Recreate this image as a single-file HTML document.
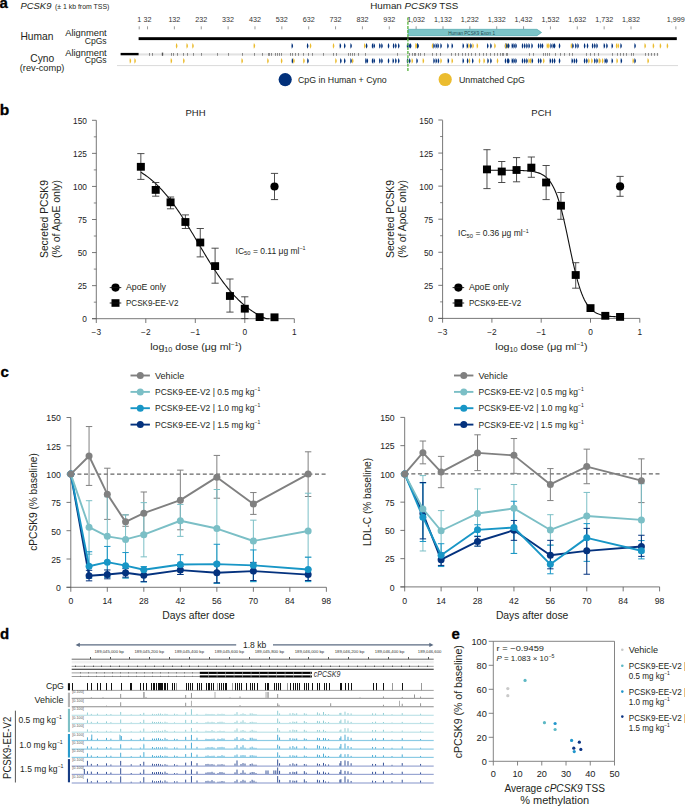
<!DOCTYPE html>
<html><head><meta charset="utf-8"><style>
html,body{margin:0;padding:0;background:#fff;width:685px;height:807px;overflow:hidden}
svg{display:block}
text{font-family:"Liberation Sans",sans-serif}
</style></head><body>
<svg width="685" height="807" viewBox="0 0 685 807" fill="#231f20">
<rect width="685" height="807" fill="#fff"/>
<text x="-0.4" y="7.8" font-size="15" fill="#000" font-weight="bold" stroke="#000" stroke-width="0.3">a</text>
<text x="20.4" y="8.8" font-size="9.6" font-style="italic" textLength="31" lengthAdjust="spacingAndGlyphs">PCSK9</text>
<text x="54.9" y="8.8" font-size="6.9" textLength="54.5" lengthAdjust="spacingAndGlyphs">(± 1 kb from TSS)</text>
<text x="370.2" y="8.8" font-size="9.8" textLength="88.2" lengthAdjust="spacingAndGlyphs">Human <tspan font-style="italic">PCSK9</tspan> TSS</text>
<text x="139.2" y="21.9" font-size="7.2" text-anchor="middle" fill="#333">1</text>
<line x1="139.2" y1="26.3" x2="139.2" y2="29.3" stroke="#555" stroke-width="0.6"/>
<text x="147.53" y="21.9" font-size="7.2" text-anchor="middle" fill="#333">32</text>
<line x1="147.53" y1="26.3" x2="147.53" y2="29.3" stroke="#555" stroke-width="0.6"/>
<text x="174.39" y="21.9" font-size="7.2" text-anchor="middle" fill="#333">132</text>
<line x1="174.39" y1="26.3" x2="174.39" y2="29.3" stroke="#555" stroke-width="0.6"/>
<text x="201.25" y="21.9" font-size="7.2" text-anchor="middle" fill="#333">232</text>
<line x1="201.25" y1="26.3" x2="201.25" y2="29.3" stroke="#555" stroke-width="0.6"/>
<text x="228.11" y="21.9" font-size="7.2" text-anchor="middle" fill="#333">332</text>
<line x1="228.11" y1="26.3" x2="228.11" y2="29.3" stroke="#555" stroke-width="0.6"/>
<text x="254.97" y="21.9" font-size="7.2" text-anchor="middle" fill="#333">432</text>
<line x1="254.97" y1="26.3" x2="254.97" y2="29.3" stroke="#555" stroke-width="0.6"/>
<text x="281.83" y="21.9" font-size="7.2" text-anchor="middle" fill="#333">532</text>
<line x1="281.83" y1="26.3" x2="281.83" y2="29.3" stroke="#555" stroke-width="0.6"/>
<text x="308.69" y="21.9" font-size="7.2" text-anchor="middle" fill="#333">632</text>
<line x1="308.69" y1="26.3" x2="308.69" y2="29.3" stroke="#555" stroke-width="0.6"/>
<text x="335.55" y="21.9" font-size="7.2" text-anchor="middle" fill="#333">732</text>
<line x1="335.55" y1="26.3" x2="335.55" y2="29.3" stroke="#555" stroke-width="0.6"/>
<text x="362.41" y="21.9" font-size="7.2" text-anchor="middle" fill="#333">832</text>
<line x1="362.41" y1="26.3" x2="362.41" y2="29.3" stroke="#555" stroke-width="0.6"/>
<text x="389.27" y="21.9" font-size="7.2" text-anchor="middle" fill="#333">932</text>
<line x1="389.27" y1="26.3" x2="389.27" y2="29.3" stroke="#555" stroke-width="0.6"/>
<text x="416.13" y="21.9" font-size="7.2" text-anchor="middle" fill="#333">1,032</text>
<line x1="416.13" y1="26.3" x2="416.13" y2="29.3" stroke="#555" stroke-width="0.6"/>
<text x="442.99" y="21.9" font-size="7.2" text-anchor="middle" fill="#333">1,132</text>
<line x1="442.99" y1="26.3" x2="442.99" y2="29.3" stroke="#555" stroke-width="0.6"/>
<text x="469.85" y="21.9" font-size="7.2" text-anchor="middle" fill="#333">1,232</text>
<line x1="469.85" y1="26.3" x2="469.85" y2="29.3" stroke="#555" stroke-width="0.6"/>
<text x="496.71" y="21.9" font-size="7.2" text-anchor="middle" fill="#333">1,332</text>
<line x1="496.71" y1="26.3" x2="496.71" y2="29.3" stroke="#555" stroke-width="0.6"/>
<text x="523.57" y="21.9" font-size="7.2" text-anchor="middle" fill="#333">1,432</text>
<line x1="523.57" y1="26.3" x2="523.57" y2="29.3" stroke="#555" stroke-width="0.6"/>
<text x="550.43" y="21.9" font-size="7.2" text-anchor="middle" fill="#333">1,532</text>
<line x1="550.43" y1="26.3" x2="550.43" y2="29.3" stroke="#555" stroke-width="0.6"/>
<text x="577.29" y="21.9" font-size="7.2" text-anchor="middle" fill="#333">1,632</text>
<line x1="577.29" y1="26.3" x2="577.29" y2="29.3" stroke="#555" stroke-width="0.6"/>
<text x="604.15" y="21.9" font-size="7.2" text-anchor="middle" fill="#333">1,732</text>
<line x1="604.15" y1="26.3" x2="604.15" y2="29.3" stroke="#555" stroke-width="0.6"/>
<text x="631.01" y="21.9" font-size="7.2" text-anchor="middle" fill="#333">1,832</text>
<line x1="631.01" y1="26.3" x2="631.01" y2="29.3" stroke="#555" stroke-width="0.6"/>
<text x="675.86" y="21.9" font-size="7.2" text-anchor="middle" fill="#333">1,999</text>
<line x1="675.86" y1="26.3" x2="675.86" y2="29.3" stroke="#555" stroke-width="0.6"/>
<path d="M408 29.3 H537 L541.6 32.5 L537 35.7 H408 Z" fill="#7cc4c8" stroke="#3f9ea6" stroke-width="0.6"/>
<text x="471.6" y="34.6" font-size="5" text-anchor="middle" fill="#1d4c55" textLength="46.8" lengthAdjust="spacingAndGlyphs">Human PCSK9 Exon 1</text>
<rect x="138.6" y="37.2" width="538.2" height="2.9" fill="#000"/>
<rect x="138.6" y="53.4" width="520" height="2.1" fill="#e2e2e2"/>
<rect x="120.6" y="52.9" width="18" height="2.4" fill="#000"/>
<rect x="149" y="53" width="1" height="2.8" fill="#8a8a8a"/>
<rect x="152" y="53" width="1" height="2.8" fill="#8a8a8a"/>
<rect x="162" y="53" width="1" height="2.8" fill="#8a8a8a"/>
<rect x="171" y="53" width="1" height="2.8" fill="#8a8a8a"/>
<rect x="173" y="53" width="1" height="2.8" fill="#8a8a8a"/>
<rect x="177" y="53" width="1" height="2.8" fill="#8a8a8a"/>
<rect x="183" y="53" width="1" height="2.8" fill="#8a8a8a"/>
<rect x="187" y="53" width="1" height="2.8" fill="#8a8a8a"/>
<rect x="193" y="53" width="1" height="2.8" fill="#8a8a8a"/>
<rect x="201" y="53" width="1" height="2.8" fill="#8a8a8a"/>
<rect x="217" y="53" width="1" height="2.8" fill="#8a8a8a"/>
<rect x="228" y="53" width="1" height="2.8" fill="#8a8a8a"/>
<rect x="242" y="53" width="1" height="2.8" fill="#8a8a8a"/>
<rect x="254" y="53" width="1" height="2.8" fill="#8a8a8a"/>
<rect x="262" y="53" width="1" height="2.8" fill="#8a8a8a"/>
<rect x="268" y="53" width="1" height="2.8" fill="#8a8a8a"/>
<rect x="269" y="53" width="1" height="2.8" fill="#8a8a8a"/>
<rect x="271" y="53" width="1" height="2.8" fill="#8a8a8a"/>
<rect x="275" y="53" width="1" height="2.8" fill="#8a8a8a"/>
<rect x="277" y="53" width="1" height="2.8" fill="#8a8a8a"/>
<rect x="279" y="53" width="1" height="2.8" fill="#8a8a8a"/>
<rect x="281" y="53" width="1" height="2.8" fill="#8a8a8a"/>
<rect x="290" y="53" width="1" height="2.8" fill="#8a8a8a"/>
<rect x="292" y="53" width="1" height="2.8" fill="#8a8a8a"/>
<rect x="295" y="53" width="1" height="2.8" fill="#8a8a8a"/>
<rect x="298" y="53" width="1" height="2.8" fill="#8a8a8a"/>
<rect x="303" y="53" width="1" height="2.8" fill="#8a8a8a"/>
<rect x="308" y="53" width="1" height="2.8" fill="#8a8a8a"/>
<rect x="312" y="53" width="1" height="2.8" fill="#8a8a8a"/>
<rect x="323" y="53" width="1" height="2.8" fill="#8a8a8a"/>
<rect x="333" y="53" width="1" height="2.8" fill="#8a8a8a"/>
<rect x="336" y="53" width="1" height="2.8" fill="#8a8a8a"/>
<rect x="348" y="53" width="1" height="2.8" fill="#8a8a8a"/>
<rect x="350" y="53" width="1" height="2.8" fill="#8a8a8a"/>
<rect x="352" y="53" width="1" height="2.8" fill="#8a8a8a"/>
<rect x="354" y="53" width="1" height="2.8" fill="#8a8a8a"/>
<rect x="358" y="53" width="1" height="2.8" fill="#8a8a8a"/>
<rect x="365" y="53" width="1" height="2.8" fill="#8a8a8a"/>
<rect x="397" y="53" width="1" height="2.8" fill="#8a8a8a"/>
<rect x="409" y="53" width="1" height="2.8" fill="#8a8a8a"/>
<rect x="412" y="53" width="1" height="2.8" fill="#8a8a8a"/>
<rect x="414" y="53" width="1" height="2.8" fill="#8a8a8a"/>
<rect x="415" y="53" width="1" height="2.8" fill="#8a8a8a"/>
<rect x="418" y="53" width="1" height="2.8" fill="#8a8a8a"/>
<rect x="420" y="53" width="1" height="2.8" fill="#8a8a8a"/>
<rect x="424" y="53" width="1" height="2.8" fill="#8a8a8a"/>
<rect x="432" y="53" width="1" height="2.8" fill="#8a8a8a"/>
<rect x="436" y="53" width="1" height="2.8" fill="#8a8a8a"/>
<rect x="440" y="53" width="1" height="2.8" fill="#8a8a8a"/>
<rect x="451" y="53" width="1" height="2.8" fill="#8a8a8a"/>
<rect x="455" y="53" width="1" height="2.8" fill="#8a8a8a"/>
<rect x="458" y="53" width="1" height="2.8" fill="#8a8a8a"/>
<rect x="462" y="53" width="1" height="2.8" fill="#8a8a8a"/>
<rect x="465" y="53" width="1" height="2.8" fill="#8a8a8a"/>
<rect x="468" y="53" width="1" height="2.8" fill="#8a8a8a"/>
<rect x="471" y="53" width="1" height="2.8" fill="#8a8a8a"/>
<rect x="475" y="53" width="1" height="2.8" fill="#8a8a8a"/>
<rect x="479" y="53" width="1" height="2.8" fill="#8a8a8a"/>
<rect x="483" y="53" width="1" height="2.8" fill="#8a8a8a"/>
<rect x="486" y="53" width="1" height="2.8" fill="#8a8a8a"/>
<rect x="490" y="53" width="1" height="2.8" fill="#8a8a8a"/>
<rect x="494" y="53" width="1" height="2.8" fill="#8a8a8a"/>
<rect x="497" y="53" width="1" height="2.8" fill="#8a8a8a"/>
<rect x="500" y="53" width="1" height="2.8" fill="#8a8a8a"/>
<rect x="502" y="53" width="1" height="2.8" fill="#8a8a8a"/>
<rect x="503" y="53" width="1" height="2.8" fill="#8a8a8a"/>
<rect x="506" y="53" width="1" height="2.8" fill="#8a8a8a"/>
<rect x="507" y="53" width="1" height="2.8" fill="#8a8a8a"/>
<rect x="529" y="53" width="1" height="2.8" fill="#8a8a8a"/>
<rect x="533" y="53" width="1" height="2.8" fill="#8a8a8a"/>
<rect x="543" y="53" width="1" height="2.8" fill="#8a8a8a"/>
<rect x="545" y="53" width="1" height="2.8" fill="#8a8a8a"/>
<rect x="547" y="53" width="1" height="2.8" fill="#8a8a8a"/>
<rect x="549" y="53" width="1" height="2.8" fill="#8a8a8a"/>
<rect x="555" y="53" width="1" height="2.8" fill="#8a8a8a"/>
<rect x="560" y="53" width="1" height="2.8" fill="#8a8a8a"/>
<rect x="564" y="53" width="1" height="2.8" fill="#8a8a8a"/>
<rect x="569" y="53" width="1" height="2.8" fill="#8a8a8a"/>
<rect x="572" y="53" width="1" height="2.8" fill="#8a8a8a"/>
<rect x="586" y="53" width="1" height="2.8" fill="#8a8a8a"/>
<rect x="590" y="53" width="1" height="2.8" fill="#8a8a8a"/>
<rect x="594" y="53" width="1" height="2.8" fill="#8a8a8a"/>
<rect x="598" y="53" width="1" height="2.8" fill="#8a8a8a"/>
<rect x="612" y="53" width="1" height="2.8" fill="#8a8a8a"/>
<rect x="617" y="53" width="1" height="2.8" fill="#8a8a8a"/>
<rect x="620" y="53" width="1" height="2.8" fill="#8a8a8a"/>
<rect x="623" y="53" width="1" height="2.8" fill="#8a8a8a"/>
<rect x="626" y="53" width="1" height="2.8" fill="#8a8a8a"/>
<rect x="631" y="53" width="1" height="2.8" fill="#8a8a8a"/>
<rect x="633" y="53" width="1" height="2.8" fill="#8a8a8a"/>
<rect x="645" y="53" width="1" height="2.8" fill="#8a8a8a"/>
<rect x="648" y="53" width="1" height="2.8" fill="#8a8a8a"/>
<rect x="651" y="53" width="1" height="2.8" fill="#8a8a8a"/>
<rect x="654" y="53" width="1" height="2.8" fill="#8a8a8a"/>
<rect x="657" y="53" width="1" height="2.8" fill="#8a8a8a"/>
<rect x="161.8" y="52.6" width="1.4" height="3" fill="#555"/>
<line x1="117" y1="65.6" x2="678" y2="65.6" stroke="#cfcfcf" stroke-width="0.8"/>
<path d="M176.2 42.9 Q178.8 45.8 176.2 48.7 Q175.5 45.8 176.2 42.9Z" fill="#ebbc2f"/>
<path d="M186.7 42.9 Q189.3 45.8 186.7 48.7 Q186 45.8 186.7 42.9Z" fill="#ebbc2f"/>
<path d="M192.5 42.9 Q195.1 45.8 192.5 48.7 Q191.8 45.8 192.5 42.9Z" fill="#ebbc2f"/>
<path d="M253.9 42.9 Q256.5 45.8 253.9 48.7 Q253.2 45.8 253.9 42.9Z" fill="#ebbc2f"/>
<path d="M291.8 42.9 Q294.4 45.8 291.8 48.7 Q291.1 45.8 291.8 42.9Z" fill="#02317b"/>
<path d="M307.2 42.9 Q309.8 45.8 307.2 48.7 Q306.5 45.8 307.2 42.9Z" fill="#02317b"/>
<path d="M310.1 42.9 Q312.7 45.8 310.1 48.7 Q309.4 45.8 310.1 42.9Z" fill="#ebbc2f"/>
<path d="M333.1 42.9 Q335.7 45.8 333.1 48.7 Q332.4 45.8 333.1 42.9Z" fill="#ebbc2f"/>
<path d="M339.9 42.9 Q342.5 45.8 339.9 48.7 Q339.2 45.8 339.9 42.9Z" fill="#02317b"/>
<path d="M344.3 42.9 Q346.9 45.8 344.3 48.7 Q343.6 45.8 344.3 42.9Z" fill="#02317b"/>
<path d="M350.6 42.9 Q353.2 45.8 350.6 48.7 Q349.9 45.8 350.6 42.9Z" fill="#02317b"/>
<path d="M364.3 42.9 Q366.9 45.8 364.3 48.7 Q363.6 45.8 364.3 42.9Z" fill="#ebbc2f"/>
<path d="M366.2 42.9 Q368.8 45.8 366.2 48.7 Q365.5 45.8 366.2 42.9Z" fill="#02317b"/>
<path d="M372.1 42.9 Q374.7 45.8 372.1 48.7 Q371.4 45.8 372.1 42.9Z" fill="#02317b"/>
<path d="M373.8 42.9 Q376.4 45.8 373.8 48.7 Q373.1 45.8 373.8 42.9Z" fill="#02317b"/>
<path d="M379.4 42.9 Q382 45.8 379.4 48.7 Q378.7 45.8 379.4 42.9Z" fill="#02317b"/>
<path d="M381.5 42.9 Q384.1 45.8 381.5 48.7 Q380.8 45.8 381.5 42.9Z" fill="#02317b"/>
<path d="M388.1 42.9 Q390.7 45.8 388.1 48.7 Q387.4 45.8 388.1 42.9Z" fill="#02317b"/>
<path d="M393.2 42.9 Q395.8 45.8 393.2 48.7 Q392.5 45.8 393.2 42.9Z" fill="#02317b"/>
<path d="M395.4 42.9 Q398 45.8 395.4 48.7 Q394.7 45.8 395.4 42.9Z" fill="#02317b"/>
<path d="M398.3 42.9 Q400.9 45.8 398.3 48.7 Q397.6 45.8 398.3 42.9Z" fill="#02317b"/>
<path d="M407.1 42.9 Q409.7 45.8 407.1 48.7 Q406.4 45.8 407.1 42.9Z" fill="#02317b"/>
<path d="M408.8 42.9 Q411.4 45.8 408.8 48.7 Q408.1 45.8 408.8 42.9Z" fill="#02317b"/>
<path d="M415.9 42.9 Q418.5 45.8 415.9 48.7 Q415.2 45.8 415.9 42.9Z" fill="#ebbc2f"/>
<path d="M417.3 42.9 Q419.9 45.8 417.3 48.7 Q416.6 45.8 417.3 42.9Z" fill="#02317b"/>
<path d="M410.2 42.9 Q412.8 45.8 410.2 48.7 Q409.5 45.8 410.2 42.9Z" fill="#02317b"/>
<path d="M415.6 42.9 Q418.2 45.8 415.6 48.7 Q414.9 45.8 415.6 42.9Z" fill="#ebbc2f"/>
<path d="M417.5 42.9 Q420.1 45.8 417.5 48.7 Q416.8 45.8 417.5 42.9Z" fill="#02317b"/>
<path d="M432.1 42.9 Q434.7 45.8 432.1 48.7 Q431.4 45.8 432.1 42.9Z" fill="#ebbc2f"/>
<path d="M433.6 42.9 Q436.2 45.8 433.6 48.7 Q432.9 45.8 433.6 42.9Z" fill="#02317b"/>
<path d="M435.8 42.9 Q438.4 45.8 435.8 48.7 Q435.1 45.8 435.8 42.9Z" fill="#02317b"/>
<path d="M437.7 42.9 Q440.3 45.8 437.7 48.7 Q437 45.8 437.7 42.9Z" fill="#02317b"/>
<path d="M440.6 42.9 Q443.2 45.8 440.6 48.7 Q439.9 45.8 440.6 42.9Z" fill="#02317b"/>
<path d="M447.5 42.9 Q450.1 45.8 447.5 48.7 Q446.8 45.8 447.5 42.9Z" fill="#02317b"/>
<path d="M451.8 42.9 Q454.4 45.8 451.8 48.7 Q451.1 45.8 451.8 42.9Z" fill="#02317b"/>
<path d="M462.8 42.9 Q465.4 45.8 462.8 48.7 Q462.1 45.8 462.8 42.9Z" fill="#02317b"/>
<path d="M466.9 42.9 Q469.5 45.8 466.9 48.7 Q466.2 45.8 466.9 42.9Z" fill="#02317b"/>
<path d="M468.6 42.9 Q471.2 45.8 468.6 48.7 Q467.9 45.8 468.6 42.9Z" fill="#ebbc2f"/>
<path d="M470.5 42.9 Q473.1 45.8 470.5 48.7 Q469.8 45.8 470.5 42.9Z" fill="#02317b"/>
<path d="M472.6 42.9 Q475.2 45.8 472.6 48.7 Q471.9 45.8 472.6 42.9Z" fill="#ebbc2f"/>
<path d="M476.9 42.9 Q479.5 45.8 476.9 48.7 Q476.2 45.8 476.9 42.9Z" fill="#ebbc2f"/>
<path d="M487.3 42.9 Q489.9 45.8 487.3 48.7 Q486.6 45.8 487.3 42.9Z" fill="#02317b"/>
<path d="M490.5 42.9 Q493.1 45.8 490.5 48.7 Q489.8 45.8 490.5 42.9Z" fill="#02317b"/>
<path d="M494.5 42.9 Q497.1 45.8 494.5 48.7 Q493.8 45.8 494.5 42.9Z" fill="#ebbc2f"/>
<path d="M505.1 42.9 Q507.7 45.8 505.1 48.7 Q504.4 45.8 505.1 42.9Z" fill="#02317b"/>
<path d="M507 42.9 Q509.6 45.8 507 48.7 Q506.3 45.8 507 42.9Z" fill="#ebbc2f"/>
<path d="M505.3 42.9 Q507.9 45.8 505.3 48.7 Q504.6 45.8 505.3 42.9Z" fill="#ebbc2f"/>
<path d="M506.5 42.9 Q509.1 45.8 506.5 48.7 Q505.8 45.8 506.5 42.9Z" fill="#02317b"/>
<path d="M508.3 42.9 Q510.9 45.8 508.3 48.7 Q507.6 45.8 508.3 42.9Z" fill="#02317b"/>
<path d="M511.9 42.9 Q514.5 45.8 511.9 48.7 Q511.2 45.8 511.9 42.9Z" fill="#02317b"/>
<path d="M513.7 42.9 Q516.3 45.8 513.7 48.7 Q513 45.8 513.7 42.9Z" fill="#02317b"/>
<path d="M515.6 42.9 Q518.2 45.8 515.6 48.7 Q514.9 45.8 515.6 42.9Z" fill="#02317b"/>
<path d="M522.1 42.9 Q524.7 45.8 522.1 48.7 Q521.4 45.8 522.1 42.9Z" fill="#02317b"/>
<path d="M524.3 42.9 Q526.9 45.8 524.3 48.7 Q523.6 45.8 524.3 42.9Z" fill="#02317b"/>
<path d="M526.5 42.9 Q529.1 45.8 526.5 48.7 Q525.8 45.8 526.5 42.9Z" fill="#02317b"/>
<path d="M528.7 42.9 Q531.3 45.8 528.7 48.7 Q528 45.8 528.7 42.9Z" fill="#02317b"/>
<path d="M531.6 42.9 Q534.2 45.8 531.6 48.7 Q530.9 45.8 531.6 42.9Z" fill="#02317b"/>
<path d="M538.2 42.9 Q540.8 45.8 538.2 48.7 Q537.5 45.8 538.2 42.9Z" fill="#02317b"/>
<path d="M540.4 42.9 Q543 45.8 540.4 48.7 Q539.7 45.8 540.4 42.9Z" fill="#02317b"/>
<path d="M542.1 42.9 Q544.7 45.8 542.1 48.7 Q541.4 45.8 542.1 42.9Z" fill="#02317b"/>
<path d="M546.9 42.9 Q549.5 45.8 546.9 48.7 Q546.2 45.8 546.9 42.9Z" fill="#ebbc2f"/>
<path d="M548.4 42.9 Q551 45.8 548.4 48.7 Q547.7 45.8 548.4 42.9Z" fill="#ebbc2f"/>
<path d="M550.6 42.9 Q553.2 45.8 550.6 48.7 Q549.9 45.8 550.6 42.9Z" fill="#02317b"/>
<path d="M552.8 42.9 Q555.4 45.8 552.8 48.7 Q552.1 45.8 552.8 42.9Z" fill="#02317b"/>
<path d="M554.2 42.9 Q556.8 45.8 554.2 48.7 Q553.5 45.8 554.2 42.9Z" fill="#02317b"/>
<path d="M559.1 42.9 Q561.7 45.8 559.1 48.7 Q558.4 45.8 559.1 42.9Z" fill="#02317b"/>
<path d="M571 42.9 Q573.6 45.8 571 48.7 Q570.3 45.8 571 42.9Z" fill="#ebbc2f"/>
<path d="M572.5 42.9 Q575.1 45.8 572.5 48.7 Q571.8 45.8 572.5 42.9Z" fill="#02317b"/>
<path d="M575.4 42.9 Q578 45.8 575.4 48.7 Q574.7 45.8 575.4 42.9Z" fill="#02317b"/>
<path d="M577.6 42.9 Q580.2 45.8 577.6 48.7 Q576.9 45.8 577.6 42.9Z" fill="#02317b"/>
<path d="M584.2 42.9 Q586.8 45.8 584.2 48.7 Q583.5 45.8 584.2 42.9Z" fill="#02317b"/>
<path d="M587.1 42.9 Q589.7 45.8 587.1 48.7 Q586.4 45.8 587.1 42.9Z" fill="#02317b"/>
<path d="M592.2 42.9 Q594.8 45.8 592.2 48.7 Q591.5 45.8 592.2 42.9Z" fill="#02317b"/>
<path d="M594.4 42.9 Q597 45.8 594.4 48.7 Q593.7 45.8 594.4 42.9Z" fill="#02317b"/>
<path d="M596.6 42.9 Q599.2 45.8 596.6 48.7 Q595.9 45.8 596.6 42.9Z" fill="#02317b"/>
<path d="M603.9 42.9 Q606.5 45.8 603.9 48.7 Q603.2 45.8 603.9 42.9Z" fill="#02317b"/>
<path d="M606.5 42.9 Q609.1 45.8 606.5 48.7 Q605.8 45.8 606.5 42.9Z" fill="#02317b"/>
<path d="M611.8 42.9 Q614.4 45.8 611.8 48.7 Q611.1 45.8 611.8 42.9Z" fill="#02317b"/>
<path d="M616.2 42.9 Q618.8 45.8 616.2 48.7 Q615.5 45.8 616.2 42.9Z" fill="#ebbc2f"/>
<path d="M617.9 42.9 Q620.5 45.8 617.9 48.7 Q617.2 45.8 617.9 42.9Z" fill="#ebbc2f"/>
<path d="M620.6 42.9 Q623.2 45.8 620.6 48.7 Q619.9 45.8 620.6 42.9Z" fill="#02317b"/>
<path d="M634.6 42.9 Q637.2 45.8 634.6 48.7 Q633.9 45.8 634.6 42.9Z" fill="#02317b"/>
<path d="M644.7 42.9 Q647.3 45.8 644.7 48.7 Q644 45.8 644.7 42.9Z" fill="#ebbc2f"/>
<path d="M653 42.9 Q655.6 45.8 653 48.7 Q652.3 45.8 653 42.9Z" fill="#ebbc2f"/>
<path d="M660 42.9 Q662.6 45.8 660 48.7 Q659.3 45.8 660 42.9Z" fill="#ebbc2f"/>
<path d="M667 42.9 Q669.6 45.8 667 48.7 Q666.3 45.8 667 42.9Z" fill="#ebbc2f"/>
<path d="M129.9 58 Q132.5 60.9 129.9 63.8 Q129.2 60.9 129.9 58Z" fill="#ebbc2f"/>
<path d="M134.6 58 Q137.2 60.9 134.6 63.8 Q133.9 60.9 134.6 58Z" fill="#ebbc2f"/>
<path d="M170.9 58 Q173.5 60.9 170.9 63.8 Q170.2 60.9 170.9 58Z" fill="#ebbc2f"/>
<path d="M183.4 58 Q186 60.9 183.4 63.8 Q182.7 60.9 183.4 58Z" fill="#ebbc2f"/>
<path d="M241.7 58 Q244.3 60.9 241.7 63.8 Q241 60.9 241.7 58Z" fill="#ebbc2f"/>
<path d="M267.5 58 Q270.1 60.9 267.5 63.8 Q266.8 60.9 267.5 58Z" fill="#ebbc2f"/>
<path d="M281.2 58 Q283.8 60.9 281.2 63.8 Q280.5 60.9 281.2 58Z" fill="#ebbc2f"/>
<path d="M292 58 Q294.6 60.9 292 63.8 Q291.3 60.9 292 58Z" fill="#02317b"/>
<path d="M293.5 58 Q296.1 60.9 293.5 63.8 Q292.8 60.9 293.5 58Z" fill="#ebbc2f"/>
<path d="M303.5 58 Q306.1 60.9 303.5 63.8 Q302.8 60.9 303.5 58Z" fill="#ebbc2f"/>
<path d="M307.5 58 Q310.1 60.9 307.5 63.8 Q306.8 60.9 307.5 58Z" fill="#02317b"/>
<path d="M335.5 58 Q338.1 60.9 335.5 63.8 Q334.8 60.9 335.5 58Z" fill="#ebbc2f"/>
<path d="M340.4 58 Q343 60.9 340.4 63.8 Q339.7 60.9 340.4 58Z" fill="#02317b"/>
<path d="M344.3 58 Q346.9 60.9 344.3 63.8 Q343.6 60.9 344.3 58Z" fill="#02317b"/>
<path d="M350.6 58 Q353.2 60.9 350.6 63.8 Q349.9 60.9 350.6 58Z" fill="#02317b"/>
<path d="M352.3 58 Q354.9 60.9 352.3 63.8 Q351.6 60.9 352.3 58Z" fill="#ebbc2f"/>
<path d="M365.5 58 Q368.1 60.9 365.5 63.8 Q364.8 60.9 365.5 58Z" fill="#02317b"/>
<path d="M366.9 58 Q369.5 60.9 366.9 63.8 Q366.2 60.9 366.9 58Z" fill="#02317b"/>
<path d="M372.1 58 Q374.7 60.9 372.1 63.8 Q371.4 60.9 372.1 58Z" fill="#02317b"/>
<path d="M373.8 58 Q376.4 60.9 373.8 63.8 Q373.1 60.9 373.8 58Z" fill="#02317b"/>
<path d="M379.4 58 Q382 60.9 379.4 63.8 Q378.7 60.9 379.4 58Z" fill="#02317b"/>
<path d="M381.5 58 Q384.1 60.9 381.5 63.8 Q380.8 60.9 381.5 58Z" fill="#02317b"/>
<path d="M388.1 58 Q390.7 60.9 388.1 63.8 Q387.4 60.9 388.1 58Z" fill="#02317b"/>
<path d="M392.8 58 Q395.4 60.9 392.8 63.8 Q392.1 60.9 392.8 58Z" fill="#02317b"/>
<path d="M395.4 58 Q398 60.9 395.4 63.8 Q394.7 60.9 395.4 58Z" fill="#02317b"/>
<path d="M398.3 58 Q400.9 60.9 398.3 63.8 Q397.6 60.9 398.3 58Z" fill="#02317b"/>
<path d="M407.1 58 Q409.7 60.9 407.1 63.8 Q406.4 60.9 407.1 58Z" fill="#02317b"/>
<path d="M409.3 58 Q411.9 60.9 409.3 63.8 Q408.6 60.9 409.3 58Z" fill="#02317b"/>
<path d="M411.8 58 Q414.4 60.9 411.8 63.8 Q411.1 60.9 411.8 58Z" fill="#ebbc2f"/>
<path d="M416.6 58 Q419.2 60.9 416.6 63.8 Q415.9 60.9 416.6 58Z" fill="#02317b"/>
<path d="M422.9 58 Q425.5 60.9 422.9 63.8 Q422.2 60.9 422.9 58Z" fill="#ebbc2f"/>
<path d="M433.6 58 Q436.2 60.9 433.6 63.8 Q432.9 60.9 433.6 58Z" fill="#02317b"/>
<path d="M435.8 58 Q438.4 60.9 435.8 63.8 Q435.1 60.9 435.8 58Z" fill="#02317b"/>
<path d="M438 58 Q440.6 60.9 438 63.8 Q437.3 60.9 438 58Z" fill="#02317b"/>
<path d="M440.6 58 Q443.2 60.9 440.6 63.8 Q439.9 60.9 440.6 58Z" fill="#ebbc2f"/>
<path d="M447.9 58 Q450.5 60.9 447.9 63.8 Q447.2 60.9 447.9 58Z" fill="#02317b"/>
<path d="M451.8 58 Q454.4 60.9 451.8 63.8 Q451.1 60.9 451.8 58Z" fill="#ebbc2f"/>
<path d="M462.8 58 Q465.4 60.9 462.8 63.8 Q462.1 60.9 462.8 58Z" fill="#02317b"/>
<path d="M467.2 58 Q469.8 60.9 467.2 63.8 Q466.5 60.9 467.2 58Z" fill="#02317b"/>
<path d="M469.1 58 Q471.7 60.9 469.1 63.8 Q468.4 60.9 469.1 58Z" fill="#ebbc2f"/>
<path d="M472.3 58 Q474.9 60.9 472.3 63.8 Q471.6 60.9 472.3 58Z" fill="#02317b"/>
<path d="M479.1 58 Q481.7 60.9 479.1 63.8 Q478.4 60.9 479.1 58Z" fill="#ebbc2f"/>
<path d="M483.7 58 Q486.3 60.9 483.7 63.8 Q483 60.9 483.7 58Z" fill="#ebbc2f"/>
<path d="M487.6 58 Q490.2 60.9 487.6 63.8 Q486.9 60.9 487.6 58Z" fill="#02317b"/>
<path d="M490.5 58 Q493.1 60.9 490.5 63.8 Q489.8 60.9 490.5 58Z" fill="#02317b"/>
<path d="M497.1 58 Q499.7 60.9 497.1 63.8 Q496.4 60.9 497.1 58Z" fill="#ebbc2f"/>
<path d="M505.1 58 Q507.7 60.9 505.1 63.8 Q504.4 60.9 505.1 58Z" fill="#02317b"/>
<path d="M507.3 58 Q509.9 60.9 507.3 63.8 Q506.6 60.9 507.3 58Z" fill="#02317b"/>
<path d="M508.3 58 Q510.9 60.9 508.3 63.8 Q507.6 60.9 508.3 58Z" fill="#02317b"/>
<path d="M511.9 58 Q514.5 60.9 511.9 63.8 Q511.2 60.9 511.9 58Z" fill="#02317b"/>
<path d="M513.7 58 Q516.3 60.9 513.7 63.8 Q513 60.9 513.7 58Z" fill="#02317b"/>
<path d="M515.6 58 Q518.2 60.9 515.6 63.8 Q514.9 60.9 515.6 58Z" fill="#02317b"/>
<path d="M522.1 58 Q524.7 60.9 522.1 63.8 Q521.4 60.9 522.1 58Z" fill="#02317b"/>
<path d="M524.3 58 Q526.9 60.9 524.3 63.8 Q523.6 60.9 524.3 58Z" fill="#02317b"/>
<path d="M526.5 58 Q529.1 60.9 526.5 63.8 Q525.8 60.9 526.5 58Z" fill="#02317b"/>
<path d="M528.7 58 Q531.3 60.9 528.7 63.8 Q528 60.9 528.7 58Z" fill="#ebbc2f"/>
<path d="M530.2 58 Q532.8 60.9 530.2 63.8 Q529.5 60.9 530.2 58Z" fill="#ebbc2f"/>
<path d="M531.9 58 Q534.5 60.9 531.9 63.8 Q531.2 60.9 531.9 58Z" fill="#02317b"/>
<path d="M538.2 58 Q540.8 60.9 538.2 63.8 Q537.5 60.9 538.2 58Z" fill="#02317b"/>
<path d="M540.4 58 Q543 60.9 540.4 63.8 Q539.7 60.9 540.4 58Z" fill="#02317b"/>
<path d="M543.3 58 Q545.9 60.9 543.3 63.8 Q542.6 60.9 543.3 58Z" fill="#ebbc2f"/>
<path d="M549.9 58 Q552.5 60.9 549.9 63.8 Q549.2 60.9 549.9 58Z" fill="#02317b"/>
<path d="M552.1 58 Q554.7 60.9 552.1 63.8 Q551.4 60.9 552.1 58Z" fill="#02317b"/>
<path d="M554.2 58 Q556.8 60.9 554.2 63.8 Q553.5 60.9 554.2 58Z" fill="#02317b"/>
<path d="M559.1 58 Q561.7 60.9 559.1 63.8 Q558.4 60.9 559.1 58Z" fill="#02317b"/>
<path d="M571.8 58 Q574.4 60.9 571.8 63.8 Q571.1 60.9 571.8 58Z" fill="#02317b"/>
<path d="M574 58 Q576.6 60.9 574 63.8 Q573.3 60.9 574 58Z" fill="#02317b"/>
<path d="M576.1 58 Q578.7 60.9 576.1 63.8 Q575.4 60.9 576.1 58Z" fill="#02317b"/>
<path d="M584.2 58 Q586.8 60.9 584.2 63.8 Q583.5 60.9 584.2 58Z" fill="#02317b"/>
<path d="M586.4 58 Q589 60.9 586.4 63.8 Q585.7 60.9 586.4 58Z" fill="#02317b"/>
<path d="M588.5 58 Q591.1 60.9 588.5 63.8 Q587.8 60.9 588.5 58Z" fill="#ebbc2f"/>
<path d="M591.5 58 Q594.1 60.9 591.5 63.8 Q590.8 60.9 591.5 58Z" fill="#ebbc2f"/>
<path d="M594.4 58 Q597 60.9 594.4 63.8 Q593.7 60.9 594.4 58Z" fill="#02317b"/>
<path d="M596.6 58 Q599.2 60.9 596.6 63.8 Q595.9 60.9 596.6 58Z" fill="#02317b"/>
<path d="M598.8 58 Q601.4 60.9 598.8 63.8 Q598.1 60.9 598.8 58Z" fill="#ebbc2f"/>
<path d="M599.5 58 Q602.1 60.9 599.5 63.8 Q598.8 60.9 599.5 58Z" fill="#ebbc2f"/>
<path d="M602.2 58 Q604.8 60.9 602.2 63.8 Q601.5 60.9 602.2 58Z" fill="#ebbc2f"/>
<path d="M604.8 58 Q607.4 60.9 604.8 63.8 Q604.1 60.9 604.8 58Z" fill="#02317b"/>
<path d="M606.5 58 Q609.1 60.9 606.5 63.8 Q605.8 60.9 606.5 58Z" fill="#02317b"/>
<path d="M611.8 58 Q614.4 60.9 611.8 63.8 Q611.1 60.9 611.8 58Z" fill="#02317b"/>
<path d="M616.7 58 Q619.3 60.9 616.7 63.8 Q616 60.9 616.7 58Z" fill="#ebbc2f"/>
<path d="M620.9 58 Q623.5 60.9 620.9 63.8 Q620.2 60.9 620.9 58Z" fill="#02317b"/>
<path d="M632.8 58 Q635.4 60.9 632.8 63.8 Q632.1 60.9 632.8 58Z" fill="#ebbc2f"/>
<path d="M634.6 58 Q637.2 60.9 634.6 63.8 Q633.9 60.9 634.6 58Z" fill="#02317b"/>
<path d="M647.7 58 Q650.3 60.9 647.7 63.8 Q647 60.9 647.7 58Z" fill="#ebbc2f"/>
<line x1="407.9" y1="17.5" x2="407.9" y2="71" stroke="#62b84a" stroke-width="1.4" stroke-dasharray="3 1.2"/>
<text x="20.4" y="40.4" font-size="10.2" textLength="33" lengthAdjust="spacingAndGlyphs">Human</text>
<text x="106.7" y="35.7" font-size="8.8" text-anchor="end" textLength="41.5" lengthAdjust="spacingAndGlyphs">Alignment</text>
<text x="106.7" y="43.5" font-size="8.8" text-anchor="end" textLength="22" lengthAdjust="spacingAndGlyphs">CpGs</text>
<text x="30.3" y="62" font-size="10.2" textLength="24" lengthAdjust="spacingAndGlyphs">Cyno</text>
<text x="106.7" y="55.8" font-size="8.8" text-anchor="end" textLength="41.5" lengthAdjust="spacingAndGlyphs">Alignment</text>
<text x="106.7" y="63.4" font-size="8.8" text-anchor="end" textLength="22" lengthAdjust="spacingAndGlyphs">CpGs</text>
<text x="19.8" y="70.7" font-size="9.2" textLength="44.6" lengthAdjust="spacingAndGlyphs">(rev-comp)</text>
<circle cx="285.2" cy="79.6" r="6.6" fill="#02317b"/>
<text x="298" y="82.5" font-size="8.8" textLength="88.7" lengthAdjust="spacingAndGlyphs">CpG in Human + Cyno</text>
<circle cx="445.2" cy="79.5" r="6.6" fill="#ebbc2f"/>
<text x="458.9" y="82.5" font-size="8.8" textLength="66" lengthAdjust="spacingAndGlyphs">Unmatched CpG</text>
<text x="-0.2" y="114.6" font-size="15.5" fill="#000" font-weight="bold" stroke="#000" stroke-width="0.3">b</text>
<line x1="96.3" y1="120.3" x2="96.3" y2="318.7" stroke="#555" stroke-width="0.8"/>
<line x1="92" y1="318.7" x2="294.3" y2="318.7" stroke="#555" stroke-width="0.8"/>
<line x1="92" y1="318.7" x2="96.3" y2="318.7" stroke="#555" stroke-width="0.8"/>
<text x="86.9" y="322.4" font-size="8.3" text-anchor="end" fill="#222">0</text>
<line x1="93.8" y1="302.17" x2="96.3" y2="302.17" stroke="#555" stroke-width="0.7"/>
<line x1="92" y1="285.63" x2="96.3" y2="285.63" stroke="#555" stroke-width="0.8"/>
<text x="86.9" y="289.33" font-size="8.3" text-anchor="end" fill="#222">25</text>
<line x1="93.8" y1="269.1" x2="96.3" y2="269.1" stroke="#555" stroke-width="0.7"/>
<line x1="92" y1="252.57" x2="96.3" y2="252.57" stroke="#555" stroke-width="0.8"/>
<text x="86.9" y="256.27" font-size="8.3" text-anchor="end" fill="#222">50</text>
<line x1="93.8" y1="236.03" x2="96.3" y2="236.03" stroke="#555" stroke-width="0.7"/>
<line x1="92" y1="219.5" x2="96.3" y2="219.5" stroke="#555" stroke-width="0.8"/>
<text x="86.9" y="223.2" font-size="8.3" text-anchor="end" fill="#222">75</text>
<line x1="93.8" y1="202.97" x2="96.3" y2="202.97" stroke="#555" stroke-width="0.7"/>
<line x1="92" y1="186.43" x2="96.3" y2="186.43" stroke="#555" stroke-width="0.8"/>
<text x="86.9" y="190.13" font-size="8.3" text-anchor="end" fill="#222">100</text>
<line x1="93.8" y1="169.9" x2="96.3" y2="169.9" stroke="#555" stroke-width="0.7"/>
<line x1="92" y1="153.37" x2="96.3" y2="153.37" stroke="#555" stroke-width="0.8"/>
<text x="86.9" y="157.07" font-size="8.3" text-anchor="end" fill="#222">125</text>
<line x1="93.8" y1="136.83" x2="96.3" y2="136.83" stroke="#555" stroke-width="0.7"/>
<line x1="92" y1="120.3" x2="96.3" y2="120.3" stroke="#555" stroke-width="0.8"/>
<text x="86.9" y="124" font-size="8.3" text-anchor="end" fill="#222">150</text>
<line x1="96.3" y1="318.7" x2="96.3" y2="323" stroke="#555" stroke-width="0.8"/>
<text x="96.3" y="334.5" font-size="8.3" text-anchor="middle" fill="#222">−3</text>
<line x1="145.8" y1="318.7" x2="145.8" y2="323" stroke="#555" stroke-width="0.8"/>
<text x="145.8" y="334.5" font-size="8.3" text-anchor="middle" fill="#222">−2</text>
<line x1="195.3" y1="318.7" x2="195.3" y2="323" stroke="#555" stroke-width="0.8"/>
<text x="195.3" y="334.5" font-size="8.3" text-anchor="middle" fill="#222">−1</text>
<line x1="244.8" y1="318.7" x2="244.8" y2="323" stroke="#555" stroke-width="0.8"/>
<text x="244.8" y="334.5" font-size="8.3" text-anchor="middle" fill="#222">0</text>
<line x1="294.3" y1="318.7" x2="294.3" y2="323" stroke="#555" stroke-width="0.8"/>
<text x="294.3" y="334.5" font-size="8.3" text-anchor="middle" fill="#222">1</text>
<text x="195.5" y="115.8" font-size="9.5" text-anchor="middle" fill="#222">PHH</text>
<text x="150.2" y="349.6" font-size="9.6" fill="#231f20" textLength="91.7" lengthAdjust="spacingAndGlyphs">log<tspan font-size="6.6" dy="2">10</tspan><tspan dy="-2"> dose (μg ml</tspan><tspan font-size="6" dy="-3.5">−1</tspan><tspan dy="3.5">)</tspan></text>
<text transform="translate(48.4,219) rotate(-90)" font-size="10" text-anchor="middle" fill="#231f20" textLength="78" lengthAdjust="spacingAndGlyphs">Secreted PCSK9</text>
<text transform="translate(59.8,219) rotate(-90)" font-size="10" text-anchor="middle" fill="#231f20" textLength="78" lengthAdjust="spacingAndGlyphs">(% of ApoE only)</text>
<path d="M140.85 172.26 L142.15 173.07 L143.45 173.92 L144.75 174.8 L146.05 175.72 L147.35 176.67 L148.65 177.65 L149.95 178.68 L151.25 179.74 L152.55 180.84 L153.85 181.98 L155.15 183.15 L156.45 184.37 L157.75 185.63 L159.05 186.93 L160.35 188.27 L161.65 189.65 L162.95 191.08 L164.25 192.54 L165.55 194.05 L166.85 195.6 L168.15 197.19 L169.45 198.82 L170.75 200.5 L172.05 202.21 L173.35 203.96 L174.65 205.76 L175.95 207.58 L177.25 209.45 L178.55 211.35 L179.85 213.29 L181.15 215.25 L182.45 217.25 L183.75 219.27 L185.05 221.33 L186.35 223.4 L187.65 225.5 L188.95 227.62 L190.25 229.76 L191.55 231.92 L192.85 234.08 L194.15 236.26 L195.45 238.44 L196.75 240.63 L198.05 242.82 L199.35 245.02 L200.65 247.2 L201.95 249.39 L203.25 251.56 L204.55 253.72 L205.85 255.87 L207.15 258.01 L208.45 260.12 L209.75 262.22 L211.05 264.29 L212.35 266.33 L213.65 268.35 L214.95 270.34 L216.25 272.3 L217.55 274.22 L218.85 276.12 L220.15 277.97 L221.45 279.79 L222.75 281.57 L224.05 283.31 L225.35 285.02 L226.65 286.68 L227.95 288.3 L229.25 289.88 L230.55 291.42 L231.85 292.92 L233.15 294.37 L234.45 295.79 L235.75 297.16 L237.05 298.49 L238.35 299.77 L239.65 301.02 L240.95 302.23 L242.25 303.39 L243.55 304.52 L244.85 305.61 L246.15 306.66 L247.45 307.67 L248.75 308.65 L250.05 309.59 L251.35 310.5 L252.65 311.37 L253.95 312.21 L255.25 313.02 L256.55 313.79 L257.85 314.53 L259.15 315.25 L260.45 315.94 L261.75 316.59 L263.05 317.22 L264.35 317.83 L265.65 318.41 L266.95 318.7 L268.25 318.7 L269.55 318.7" fill="none" stroke="#111" stroke-width="1.1"/>
<line x1="140.85" y1="153.6" x2="140.85" y2="179.4" stroke="#3a3a3a" stroke-width="0.9"/>
<line x1="137.25" y1="153.6" x2="144.45" y2="153.6" stroke="#3a3a3a" stroke-width="0.9"/>
<line x1="137.25" y1="179.4" x2="144.45" y2="179.4" stroke="#3a3a3a" stroke-width="0.9"/>
<line x1="155.7" y1="182.5" x2="155.7" y2="196.2" stroke="#3a3a3a" stroke-width="0.9"/>
<line x1="152.1" y1="182.5" x2="159.3" y2="182.5" stroke="#3a3a3a" stroke-width="0.9"/>
<line x1="152.1" y1="196.2" x2="159.3" y2="196.2" stroke="#3a3a3a" stroke-width="0.9"/>
<line x1="170.55" y1="197" x2="170.55" y2="208.8" stroke="#3a3a3a" stroke-width="0.9"/>
<line x1="166.95" y1="197" x2="174.15" y2="197" stroke="#3a3a3a" stroke-width="0.9"/>
<line x1="166.95" y1="208.8" x2="174.15" y2="208.8" stroke="#3a3a3a" stroke-width="0.9"/>
<line x1="185.4" y1="214.9" x2="185.4" y2="228.5" stroke="#3a3a3a" stroke-width="0.9"/>
<line x1="181.8" y1="214.9" x2="189" y2="214.9" stroke="#3a3a3a" stroke-width="0.9"/>
<line x1="181.8" y1="228.5" x2="189" y2="228.5" stroke="#3a3a3a" stroke-width="0.9"/>
<line x1="200.25" y1="228.5" x2="200.25" y2="256.9" stroke="#3a3a3a" stroke-width="0.9"/>
<line x1="196.65" y1="228.5" x2="203.85" y2="228.5" stroke="#3a3a3a" stroke-width="0.9"/>
<line x1="196.65" y1="256.9" x2="203.85" y2="256.9" stroke="#3a3a3a" stroke-width="0.9"/>
<line x1="215.1" y1="248.2" x2="215.1" y2="283.2" stroke="#3a3a3a" stroke-width="0.9"/>
<line x1="211.5" y1="248.2" x2="218.7" y2="248.2" stroke="#3a3a3a" stroke-width="0.9"/>
<line x1="211.5" y1="283.2" x2="218.7" y2="283.2" stroke="#3a3a3a" stroke-width="0.9"/>
<line x1="229.95" y1="279" x2="229.95" y2="312.1" stroke="#3a3a3a" stroke-width="0.9"/>
<line x1="226.35" y1="279" x2="233.55" y2="279" stroke="#3a3a3a" stroke-width="0.9"/>
<line x1="226.35" y1="312.1" x2="233.55" y2="312.1" stroke="#3a3a3a" stroke-width="0.9"/>
<line x1="244.8" y1="296.8" x2="244.8" y2="318.6" stroke="#3a3a3a" stroke-width="0.9"/>
<line x1="241.2" y1="296.8" x2="248.4" y2="296.8" stroke="#3a3a3a" stroke-width="0.9"/>
<line x1="241.2" y1="318.6" x2="248.4" y2="318.6" stroke="#3a3a3a" stroke-width="0.9"/>
<rect x="136.85" y="162.9" width="8" height="7.8" fill="#000"/>
<rect x="151.7" y="186" width="8" height="7.8" fill="#000"/>
<rect x="166.55" y="198.4" width="8" height="7.8" fill="#000"/>
<rect x="181.4" y="218.1" width="8" height="7.8" fill="#000"/>
<rect x="196.25" y="238.6" width="8" height="7.8" fill="#000"/>
<rect x="211.1" y="262.2" width="8" height="7.8" fill="#000"/>
<rect x="225.95" y="292.1" width="8" height="7.8" fill="#000"/>
<rect x="240.8" y="304.8" width="8" height="7.8" fill="#000"/>
<rect x="255.65" y="313.2" width="8" height="7.8" fill="#000"/>
<rect x="270.5" y="313.4" width="8" height="7.8" fill="#000"/>
<line x1="274.5" y1="173.4" x2="274.5" y2="199.6" stroke="#3a3a3a" stroke-width="0.9"/>
<line x1="270.9" y1="173.4" x2="278.1" y2="173.4" stroke="#3a3a3a" stroke-width="0.9"/>
<line x1="270.9" y1="199.6" x2="278.1" y2="199.6" stroke="#3a3a3a" stroke-width="0.9"/>
<circle cx="274.5" cy="186.5" r="4.1" fill="#000"/>
<text x="235.6" y="253.5" font-size="8.5" fill="#231f20">IC<tspan font-size="5.8" dy="1.8">50</tspan><tspan dy="-1.8"> = 0.11 μg ml</tspan><tspan font-size="5.4" dy="-3.2">−1</tspan></text>
<circle cx="115.5" cy="287.6" r="4.1" fill="#000"/>
<line x1="109.7" y1="287.6" x2="121.3" y2="287.6" stroke="#111" stroke-width="0.9"/>
<rect x="111.5" y="299.2" width="8" height="7.6" fill="#000"/>
<line x1="109.7" y1="303" x2="121.3" y2="303" stroke="#111" stroke-width="0.9"/>
<text x="126" y="290.3" font-size="8.6" textLength="40" lengthAdjust="spacingAndGlyphs">ApoE only</text>
<text x="126" y="306.1" font-size="8.6" textLength="52.4" lengthAdjust="spacingAndGlyphs">PCSK9-EE-V2</text>
<line x1="442.6" y1="120.3" x2="442.6" y2="318.4" stroke="#555" stroke-width="0.8"/>
<line x1="438.3" y1="318.4" x2="639.8" y2="318.4" stroke="#555" stroke-width="0.8"/>
<line x1="438.3" y1="318.4" x2="442.6" y2="318.4" stroke="#555" stroke-width="0.8"/>
<text x="433.2" y="322.1" font-size="8.3" text-anchor="end" fill="#222">0</text>
<line x1="440.1" y1="301.87" x2="442.6" y2="301.87" stroke="#555" stroke-width="0.7"/>
<line x1="438.3" y1="285.33" x2="442.6" y2="285.33" stroke="#555" stroke-width="0.8"/>
<text x="433.2" y="289.03" font-size="8.3" text-anchor="end" fill="#222">25</text>
<line x1="440.1" y1="268.8" x2="442.6" y2="268.8" stroke="#555" stroke-width="0.7"/>
<line x1="438.3" y1="252.27" x2="442.6" y2="252.27" stroke="#555" stroke-width="0.8"/>
<text x="433.2" y="255.97" font-size="8.3" text-anchor="end" fill="#222">50</text>
<line x1="440.1" y1="235.73" x2="442.6" y2="235.73" stroke="#555" stroke-width="0.7"/>
<line x1="438.3" y1="219.2" x2="442.6" y2="219.2" stroke="#555" stroke-width="0.8"/>
<text x="433.2" y="222.9" font-size="8.3" text-anchor="end" fill="#222">75</text>
<line x1="440.1" y1="202.67" x2="442.6" y2="202.67" stroke="#555" stroke-width="0.7"/>
<line x1="438.3" y1="186.13" x2="442.6" y2="186.13" stroke="#555" stroke-width="0.8"/>
<text x="433.2" y="189.83" font-size="8.3" text-anchor="end" fill="#222">100</text>
<line x1="440.1" y1="169.6" x2="442.6" y2="169.6" stroke="#555" stroke-width="0.7"/>
<line x1="438.3" y1="153.07" x2="442.6" y2="153.07" stroke="#555" stroke-width="0.8"/>
<text x="433.2" y="156.77" font-size="8.3" text-anchor="end" fill="#222">125</text>
<line x1="440.1" y1="136.53" x2="442.6" y2="136.53" stroke="#555" stroke-width="0.7"/>
<line x1="438.3" y1="120" x2="442.6" y2="120" stroke="#555" stroke-width="0.8"/>
<text x="433.2" y="123.7" font-size="8.3" text-anchor="end" fill="#222">150</text>
<line x1="442.6" y1="318.4" x2="442.6" y2="322.7" stroke="#555" stroke-width="0.8"/>
<text x="442.6" y="334.5" font-size="8.3" text-anchor="middle" fill="#222">−3</text>
<line x1="491.9" y1="318.4" x2="491.9" y2="322.7" stroke="#555" stroke-width="0.8"/>
<text x="491.9" y="334.5" font-size="8.3" text-anchor="middle" fill="#222">−2</text>
<line x1="541.2" y1="318.4" x2="541.2" y2="322.7" stroke="#555" stroke-width="0.8"/>
<text x="541.2" y="334.5" font-size="8.3" text-anchor="middle" fill="#222">−1</text>
<line x1="590.5" y1="318.4" x2="590.5" y2="322.7" stroke="#555" stroke-width="0.8"/>
<text x="590.5" y="334.5" font-size="8.3" text-anchor="middle" fill="#222">0</text>
<line x1="639.8" y1="318.4" x2="639.8" y2="322.7" stroke="#555" stroke-width="0.8"/>
<text x="639.8" y="334.5" font-size="8.3" text-anchor="middle" fill="#222">1</text>
<text x="541.4" y="115.8" font-size="9.5" text-anchor="middle" fill="#222">PCH</text>
<text x="495.3" y="349.6" font-size="9.6" fill="#231f20" textLength="92.3" lengthAdjust="spacingAndGlyphs">log<tspan font-size="6.6" dy="2">10</tspan><tspan dy="-2"> dose (μg ml</tspan><tspan font-size="6" dy="-3.5">−1</tspan><tspan dy="3.5">)</tspan></text>
<text transform="translate(394.4,219) rotate(-90)" font-size="10" text-anchor="middle" fill="#231f20" textLength="78" lengthAdjust="spacingAndGlyphs">Secreted PCSK9</text>
<text transform="translate(405.5,219) rotate(-90)" font-size="10" text-anchor="middle" fill="#231f20" textLength="78" lengthAdjust="spacingAndGlyphs">(% of ApoE only)</text>
<path d="M486.97 170.25 L488.32 170.25 L489.68 170.25 L491.03 170.25 L492.39 170.25 L493.74 170.25 L495.1 170.25 L496.45 170.25 L497.81 170.26 L499.16 170.26 L500.52 170.26 L501.87 170.27 L503.22 170.27 L504.58 170.28 L505.93 170.28 L507.29 170.29 L508.64 170.3 L510 170.31 L511.35 170.32 L512.71 170.34 L514.06 170.35 L515.41 170.38 L516.77 170.4 L518.12 170.43 L519.48 170.47 L520.83 170.51 L522.19 170.56 L523.54 170.62 L524.9 170.7 L526.25 170.78 L527.61 170.89 L528.96 171.01 L530.31 171.16 L531.67 171.34 L533.02 171.55 L534.38 171.8 L535.73 172.1 L537.09 172.45 L538.44 172.87 L539.8 173.37 L541.15 173.96 L542.5 174.66 L543.86 175.49 L545.21 176.46 L546.57 177.61 L547.92 178.95 L549.28 180.53 L550.63 182.36 L551.99 184.48 L553.34 186.92 L554.7 189.73 L556.05 192.92 L557.4 196.54 L558.76 200.58 L560.11 205.07 L561.47 210 L562.82 215.34 L564.18 221.06 L565.53 227.1 L566.89 233.38 L568.24 239.82 L569.59 246.32 L570.95 252.78 L572.3 259.1 L573.66 265.19 L575.01 270.97 L576.37 276.38 L577.72 281.38 L579.08 285.95 L580.43 290.07 L581.79 293.75 L583.14 297.02 L584.49 299.89 L585.85 302.4 L587.2 304.58 L588.56 306.46 L589.91 308.07 L591.27 309.45 L592.62 310.63 L593.98 311.63 L595.33 312.48 L596.68 313.2 L598.04 313.81 L599.39 314.33 L600.75 314.76 L602.1 315.13 L603.46 315.43 L604.81 315.69 L606.17 315.91 L607.52 316.09 L608.88 316.24 L610.23 316.37 L611.58 316.48 L612.94 316.57 L614.29 316.65 L615.65 316.71 L617 316.76 L618.36 316.81 L619.71 316.85 L621.07 316.88" fill="none" stroke="#111" stroke-width="1.1"/>
<line x1="486.97" y1="149.7" x2="486.97" y2="188.6" stroke="#3a3a3a" stroke-width="0.9"/>
<line x1="483.37" y1="149.7" x2="490.57" y2="149.7" stroke="#3a3a3a" stroke-width="0.9"/>
<line x1="483.37" y1="188.6" x2="490.57" y2="188.6" stroke="#3a3a3a" stroke-width="0.9"/>
<line x1="501.76" y1="161.5" x2="501.76" y2="182.5" stroke="#3a3a3a" stroke-width="0.9"/>
<line x1="498.16" y1="161.5" x2="505.36" y2="161.5" stroke="#3a3a3a" stroke-width="0.9"/>
<line x1="498.16" y1="182.5" x2="505.36" y2="182.5" stroke="#3a3a3a" stroke-width="0.9"/>
<line x1="516.55" y1="157.6" x2="516.55" y2="181.8" stroke="#3a3a3a" stroke-width="0.9"/>
<line x1="512.95" y1="157.6" x2="520.15" y2="157.6" stroke="#3a3a3a" stroke-width="0.9"/>
<line x1="512.95" y1="181.8" x2="520.15" y2="181.8" stroke="#3a3a3a" stroke-width="0.9"/>
<line x1="531.34" y1="157" x2="531.34" y2="177.3" stroke="#3a3a3a" stroke-width="0.9"/>
<line x1="527.74" y1="157" x2="534.94" y2="157" stroke="#3a3a3a" stroke-width="0.9"/>
<line x1="527.74" y1="177.3" x2="534.94" y2="177.3" stroke="#3a3a3a" stroke-width="0.9"/>
<line x1="546.13" y1="165.5" x2="546.13" y2="199.6" stroke="#3a3a3a" stroke-width="0.9"/>
<line x1="542.53" y1="165.5" x2="549.73" y2="165.5" stroke="#3a3a3a" stroke-width="0.9"/>
<line x1="542.53" y1="199.6" x2="549.73" y2="199.6" stroke="#3a3a3a" stroke-width="0.9"/>
<line x1="560.92" y1="192.5" x2="560.92" y2="219.3" stroke="#3a3a3a" stroke-width="0.9"/>
<line x1="557.32" y1="192.5" x2="564.52" y2="192.5" stroke="#3a3a3a" stroke-width="0.9"/>
<line x1="557.32" y1="219.3" x2="564.52" y2="219.3" stroke="#3a3a3a" stroke-width="0.9"/>
<line x1="575.71" y1="262.7" x2="575.71" y2="288.2" stroke="#3a3a3a" stroke-width="0.9"/>
<line x1="572.11" y1="262.7" x2="579.31" y2="262.7" stroke="#3a3a3a" stroke-width="0.9"/>
<line x1="572.11" y1="288.2" x2="579.31" y2="288.2" stroke="#3a3a3a" stroke-width="0.9"/>
<rect x="482.97" y="165.5" width="8" height="7.8" fill="#000"/>
<rect x="497.76" y="167.6" width="8" height="7.8" fill="#000"/>
<rect x="512.55" y="166.1" width="8" height="7.8" fill="#000"/>
<rect x="527.34" y="163.7" width="8" height="7.8" fill="#000"/>
<rect x="542.13" y="178.6" width="8" height="7.8" fill="#000"/>
<rect x="556.92" y="201.8" width="8" height="7.8" fill="#000"/>
<rect x="571.71" y="271.1" width="8" height="7.8" fill="#000"/>
<rect x="586.5" y="304.2" width="8" height="7.8" fill="#000"/>
<rect x="601.29" y="311.9" width="8" height="7.8" fill="#000"/>
<rect x="616.08" y="313" width="8" height="7.8" fill="#000"/>
<line x1="620.08" y1="176.4" x2="620.08" y2="196.3" stroke="#3a3a3a" stroke-width="0.9"/>
<line x1="616.48" y1="176.4" x2="623.68" y2="176.4" stroke="#3a3a3a" stroke-width="0.9"/>
<line x1="616.48" y1="196.3" x2="623.68" y2="196.3" stroke="#3a3a3a" stroke-width="0.9"/>
<circle cx="620.08" cy="186.4" r="4.1" fill="#000"/>
<text x="458.1" y="236.4" font-size="8.5" fill="#231f20">IC<tspan font-size="5.8" dy="1.8">50</tspan><tspan dy="-1.8"> = 0.36 μg ml</tspan><tspan font-size="5.4" dy="-3.2">−1</tspan></text>
<circle cx="458.4" cy="287.6" r="4.1" fill="#000"/>
<line x1="452.6" y1="287.6" x2="464.2" y2="287.6" stroke="#111" stroke-width="0.9"/>
<rect x="454.4" y="299.2" width="8" height="7.6" fill="#000"/>
<line x1="452.6" y1="303" x2="464.2" y2="303" stroke="#111" stroke-width="0.9"/>
<text x="468.9" y="290.3" font-size="8.6" textLength="40" lengthAdjust="spacingAndGlyphs">ApoE only</text>
<text x="468.9" y="306.1" font-size="8.6" textLength="52.4" lengthAdjust="spacingAndGlyphs">PCSK9-EE-V2</text>
<text x="0.4" y="377" font-size="15" fill="#000" font-weight="bold" stroke="#000" stroke-width="0.3">c</text>
<line x1="70.8" y1="417.5" x2="70.8" y2="587.3" stroke="#555" stroke-width="0.8"/>
<line x1="66.5" y1="587.3" x2="326.38" y2="587.3" stroke="#555" stroke-width="0.8"/>
<line x1="66.5" y1="587.3" x2="70.8" y2="587.3" stroke="#555" stroke-width="0.8"/>
<text x="60.8" y="591.1" font-size="8.7" text-anchor="end" fill="#222">0</text>
<line x1="66.5" y1="559" x2="70.8" y2="559" stroke="#555" stroke-width="0.8"/>
<text x="60.8" y="562.8" font-size="8.7" text-anchor="end" fill="#222">25</text>
<line x1="66.5" y1="530.7" x2="70.8" y2="530.7" stroke="#555" stroke-width="0.8"/>
<text x="60.8" y="534.5" font-size="8.7" text-anchor="end" fill="#222">50</text>
<line x1="66.5" y1="502.4" x2="70.8" y2="502.4" stroke="#555" stroke-width="0.8"/>
<text x="60.8" y="506.2" font-size="8.7" text-anchor="end" fill="#222">75</text>
<line x1="66.5" y1="474.1" x2="70.8" y2="474.1" stroke="#555" stroke-width="0.8"/>
<text x="60.8" y="477.9" font-size="8.7" text-anchor="end" fill="#222">100</text>
<line x1="66.5" y1="445.8" x2="70.8" y2="445.8" stroke="#555" stroke-width="0.8"/>
<text x="60.8" y="449.6" font-size="8.7" text-anchor="end" fill="#222">125</text>
<line x1="66.5" y1="417.5" x2="70.8" y2="417.5" stroke="#555" stroke-width="0.8"/>
<text x="60.8" y="421.3" font-size="8.7" text-anchor="end" fill="#222">150</text>
<line x1="70.8" y1="587.3" x2="70.8" y2="591.8" stroke="#555" stroke-width="0.8"/>
<text x="70.8" y="603.6" font-size="8.7" text-anchor="middle" fill="#222">0</text>
<line x1="107.31" y1="587.3" x2="107.31" y2="591.8" stroke="#555" stroke-width="0.8"/>
<text x="107.31" y="603.6" font-size="8.7" text-anchor="middle" fill="#222">14</text>
<line x1="143.82" y1="587.3" x2="143.82" y2="591.8" stroke="#555" stroke-width="0.8"/>
<text x="143.82" y="603.6" font-size="8.7" text-anchor="middle" fill="#222">28</text>
<line x1="180.34" y1="587.3" x2="180.34" y2="591.8" stroke="#555" stroke-width="0.8"/>
<text x="180.34" y="603.6" font-size="8.7" text-anchor="middle" fill="#222">42</text>
<line x1="216.85" y1="587.3" x2="216.85" y2="591.8" stroke="#555" stroke-width="0.8"/>
<text x="216.85" y="603.6" font-size="8.7" text-anchor="middle" fill="#222">56</text>
<line x1="253.36" y1="587.3" x2="253.36" y2="591.8" stroke="#555" stroke-width="0.8"/>
<text x="253.36" y="603.6" font-size="8.7" text-anchor="middle" fill="#222">70</text>
<line x1="289.87" y1="587.3" x2="289.87" y2="591.8" stroke="#555" stroke-width="0.8"/>
<text x="289.87" y="603.6" font-size="8.7" text-anchor="middle" fill="#222">84</text>
<line x1="326.38" y1="587.3" x2="326.38" y2="591.8" stroke="#555" stroke-width="0.8"/>
<text x="326.38" y="603.6" font-size="8.7" text-anchor="middle" fill="#222">98</text>
<text x="198.59" y="619.1" font-size="10" text-anchor="middle" textLength="72.5" lengthAdjust="spacingAndGlyphs">Days after dose</text>
<text transform="translate(37.2,502) rotate(-90)" font-size="10" text-anchor="middle" fill="#231f20" textLength="97.6" lengthAdjust="spacingAndGlyphs">cPCSK9 (% baseline)</text>
<line x1="70.8" y1="474.1" x2="326.38" y2="474.1" stroke="#666" stroke-width="1.1" stroke-dasharray="4 2.6"/>
<line x1="89.06" y1="485.42" x2="89.06" y2="426.56" stroke="#808080" stroke-width="1.0"/>
<line x1="85.86" y1="485.42" x2="92.26" y2="485.42" stroke="#808080" stroke-width="1.0"/>
<line x1="85.86" y1="426.56" x2="92.26" y2="426.56" stroke="#808080" stroke-width="1.0"/>
<line x1="107.31" y1="519.38" x2="107.31" y2="468.21" stroke="#808080" stroke-width="1.0"/>
<line x1="104.11" y1="519.38" x2="110.51" y2="519.38" stroke="#808080" stroke-width="1.0"/>
<line x1="104.11" y1="468.21" x2="110.51" y2="468.21" stroke="#808080" stroke-width="1.0"/>
<line x1="125.57" y1="526.29" x2="125.57" y2="514.85" stroke="#808080" stroke-width="1.0"/>
<line x1="122.37" y1="526.29" x2="128.77" y2="526.29" stroke="#808080" stroke-width="1.0"/>
<line x1="122.37" y1="514.85" x2="128.77" y2="514.85" stroke="#808080" stroke-width="1.0"/>
<line x1="143.82" y1="533.3" x2="143.82" y2="491.99" stroke="#808080" stroke-width="1.0"/>
<line x1="140.62" y1="533.3" x2="147.02" y2="533.3" stroke="#808080" stroke-width="1.0"/>
<line x1="140.62" y1="491.99" x2="147.02" y2="491.99" stroke="#808080" stroke-width="1.0"/>
<line x1="180.34" y1="529.79" x2="180.34" y2="470.14" stroke="#808080" stroke-width="1.0"/>
<line x1="177.14" y1="529.79" x2="183.54" y2="529.79" stroke="#808080" stroke-width="1.0"/>
<line x1="177.14" y1="470.14" x2="183.54" y2="470.14" stroke="#808080" stroke-width="1.0"/>
<line x1="216.85" y1="498.21" x2="216.85" y2="455.42" stroke="#808080" stroke-width="1.0"/>
<line x1="213.65" y1="498.21" x2="220.05" y2="498.21" stroke="#808080" stroke-width="1.0"/>
<line x1="213.65" y1="455.42" x2="220.05" y2="455.42" stroke="#808080" stroke-width="1.0"/>
<line x1="253.36" y1="514.4" x2="253.36" y2="492.55" stroke="#808080" stroke-width="1.0"/>
<line x1="250.16" y1="514.4" x2="256.56" y2="514.4" stroke="#808080" stroke-width="1.0"/>
<line x1="250.16" y1="492.55" x2="256.56" y2="492.55" stroke="#808080" stroke-width="1.0"/>
<line x1="308.13" y1="496.51" x2="308.13" y2="451.8" stroke="#808080" stroke-width="1.0"/>
<line x1="304.93" y1="496.51" x2="311.33" y2="496.51" stroke="#808080" stroke-width="1.0"/>
<line x1="304.93" y1="451.8" x2="311.33" y2="451.8" stroke="#808080" stroke-width="1.0"/>
<line x1="89.06" y1="554.25" x2="89.06" y2="500.7" stroke="#7bbfc6" stroke-width="1.0"/>
<line x1="85.86" y1="554.25" x2="92.26" y2="554.25" stroke="#7bbfc6" stroke-width="1.0"/>
<line x1="85.86" y1="500.7" x2="92.26" y2="500.7" stroke="#7bbfc6" stroke-width="1.0"/>
<line x1="107.31" y1="577.45" x2="107.31" y2="496.74" stroke="#7bbfc6" stroke-width="1.0"/>
<line x1="104.11" y1="577.45" x2="110.51" y2="577.45" stroke="#7bbfc6" stroke-width="1.0"/>
<line x1="104.11" y1="496.74" x2="110.51" y2="496.74" stroke="#7bbfc6" stroke-width="1.0"/>
<line x1="125.57" y1="578.02" x2="125.57" y2="514.85" stroke="#7bbfc6" stroke-width="1.0"/>
<line x1="122.37" y1="578.02" x2="128.77" y2="578.02" stroke="#7bbfc6" stroke-width="1.0"/>
<line x1="122.37" y1="514.85" x2="128.77" y2="514.85" stroke="#7bbfc6" stroke-width="1.0"/>
<line x1="143.82" y1="556.85" x2="143.82" y2="502.63" stroke="#7bbfc6" stroke-width="1.0"/>
<line x1="140.62" y1="556.85" x2="147.02" y2="556.85" stroke="#7bbfc6" stroke-width="1.0"/>
<line x1="140.62" y1="502.63" x2="147.02" y2="502.63" stroke="#7bbfc6" stroke-width="1.0"/>
<line x1="180.34" y1="536.36" x2="180.34" y2="504.44" stroke="#7bbfc6" stroke-width="1.0"/>
<line x1="177.14" y1="536.36" x2="183.54" y2="536.36" stroke="#7bbfc6" stroke-width="1.0"/>
<line x1="177.14" y1="504.44" x2="183.54" y2="504.44" stroke="#7bbfc6" stroke-width="1.0"/>
<line x1="216.85" y1="583.34" x2="216.85" y2="489.5" stroke="#7bbfc6" stroke-width="1.0"/>
<line x1="213.65" y1="583.34" x2="220.05" y2="583.34" stroke="#7bbfc6" stroke-width="1.0"/>
<line x1="213.65" y1="489.5" x2="220.05" y2="489.5" stroke="#7bbfc6" stroke-width="1.0"/>
<line x1="253.36" y1="581.64" x2="253.36" y2="520.17" stroke="#7bbfc6" stroke-width="1.0"/>
<line x1="250.16" y1="581.64" x2="256.56" y2="581.64" stroke="#7bbfc6" stroke-width="1.0"/>
<line x1="250.16" y1="520.17" x2="256.56" y2="520.17" stroke="#7bbfc6" stroke-width="1.0"/>
<line x1="308.13" y1="557.19" x2="308.13" y2="493.23" stroke="#7bbfc6" stroke-width="1.0"/>
<line x1="304.93" y1="557.19" x2="311.33" y2="557.19" stroke="#7bbfc6" stroke-width="1.0"/>
<line x1="304.93" y1="493.23" x2="311.33" y2="493.23" stroke="#7bbfc6" stroke-width="1.0"/>
<line x1="89.06" y1="578.24" x2="89.06" y2="551.76" stroke="#1896c6" stroke-width="1.0"/>
<line x1="85.86" y1="578.24" x2="92.26" y2="578.24" stroke="#1896c6" stroke-width="1.0"/>
<line x1="85.86" y1="551.76" x2="92.26" y2="551.76" stroke="#1896c6" stroke-width="1.0"/>
<line x1="107.31" y1="577.11" x2="107.31" y2="546.43" stroke="#1896c6" stroke-width="1.0"/>
<line x1="104.11" y1="577.11" x2="110.51" y2="577.11" stroke="#1896c6" stroke-width="1.0"/>
<line x1="104.11" y1="546.43" x2="110.51" y2="546.43" stroke="#1896c6" stroke-width="1.0"/>
<line x1="125.57" y1="578.02" x2="125.57" y2="552.55" stroke="#1896c6" stroke-width="1.0"/>
<line x1="122.37" y1="578.02" x2="128.77" y2="578.02" stroke="#1896c6" stroke-width="1.0"/>
<line x1="122.37" y1="552.55" x2="128.77" y2="552.55" stroke="#1896c6" stroke-width="1.0"/>
<line x1="143.82" y1="581.98" x2="143.82" y2="566.58" stroke="#1896c6" stroke-width="1.0"/>
<line x1="140.62" y1="581.98" x2="147.02" y2="581.98" stroke="#1896c6" stroke-width="1.0"/>
<line x1="140.62" y1="566.58" x2="147.02" y2="566.58" stroke="#1896c6" stroke-width="1.0"/>
<line x1="180.34" y1="574.51" x2="180.34" y2="554.7" stroke="#1896c6" stroke-width="1.0"/>
<line x1="177.14" y1="574.51" x2="183.54" y2="574.51" stroke="#1896c6" stroke-width="1.0"/>
<line x1="177.14" y1="554.7" x2="183.54" y2="554.7" stroke="#1896c6" stroke-width="1.0"/>
<line x1="216.85" y1="583.34" x2="216.85" y2="544.28" stroke="#1896c6" stroke-width="1.0"/>
<line x1="213.65" y1="583.34" x2="220.05" y2="583.34" stroke="#1896c6" stroke-width="1.0"/>
<line x1="213.65" y1="544.28" x2="220.05" y2="544.28" stroke="#1896c6" stroke-width="1.0"/>
<line x1="253.36" y1="581.64" x2="253.36" y2="549.94" stroke="#1896c6" stroke-width="1.0"/>
<line x1="250.16" y1="581.64" x2="256.56" y2="581.64" stroke="#1896c6" stroke-width="1.0"/>
<line x1="250.16" y1="549.94" x2="256.56" y2="549.94" stroke="#1896c6" stroke-width="1.0"/>
<line x1="308.13" y1="581.64" x2="308.13" y2="557.19" stroke="#1896c6" stroke-width="1.0"/>
<line x1="304.93" y1="581.64" x2="311.33" y2="581.64" stroke="#1896c6" stroke-width="1.0"/>
<line x1="304.93" y1="557.19" x2="311.33" y2="557.19" stroke="#1896c6" stroke-width="1.0"/>
<line x1="89.06" y1="580.85" x2="89.06" y2="570.32" stroke="#04327e" stroke-width="1.0"/>
<line x1="85.86" y1="580.85" x2="92.26" y2="580.85" stroke="#04327e" stroke-width="1.0"/>
<line x1="85.86" y1="570.32" x2="92.26" y2="570.32" stroke="#04327e" stroke-width="1.0"/>
<line x1="107.31" y1="578.81" x2="107.31" y2="569.98" stroke="#04327e" stroke-width="1.0"/>
<line x1="104.11" y1="578.81" x2="110.51" y2="578.81" stroke="#04327e" stroke-width="1.0"/>
<line x1="104.11" y1="569.98" x2="110.51" y2="569.98" stroke="#04327e" stroke-width="1.0"/>
<line x1="125.57" y1="577.11" x2="125.57" y2="568.62" stroke="#04327e" stroke-width="1.0"/>
<line x1="122.37" y1="577.11" x2="128.77" y2="577.11" stroke="#04327e" stroke-width="1.0"/>
<line x1="122.37" y1="568.62" x2="128.77" y2="568.62" stroke="#04327e" stroke-width="1.0"/>
<line x1="143.82" y1="581.64" x2="143.82" y2="570.32" stroke="#04327e" stroke-width="1.0"/>
<line x1="140.62" y1="581.64" x2="147.02" y2="581.64" stroke="#04327e" stroke-width="1.0"/>
<line x1="140.62" y1="570.32" x2="147.02" y2="570.32" stroke="#04327e" stroke-width="1.0"/>
<line x1="180.34" y1="574.51" x2="180.34" y2="566.58" stroke="#04327e" stroke-width="1.0"/>
<line x1="177.14" y1="574.51" x2="183.54" y2="574.51" stroke="#04327e" stroke-width="1.0"/>
<line x1="177.14" y1="566.58" x2="183.54" y2="566.58" stroke="#04327e" stroke-width="1.0"/>
<line x1="216.85" y1="582.77" x2="216.85" y2="562.4" stroke="#04327e" stroke-width="1.0"/>
<line x1="213.65" y1="582.77" x2="220.05" y2="582.77" stroke="#04327e" stroke-width="1.0"/>
<line x1="213.65" y1="562.4" x2="220.05" y2="562.4" stroke="#04327e" stroke-width="1.0"/>
<line x1="253.36" y1="580.51" x2="253.36" y2="562.4" stroke="#04327e" stroke-width="1.0"/>
<line x1="250.16" y1="580.51" x2="256.56" y2="580.51" stroke="#04327e" stroke-width="1.0"/>
<line x1="250.16" y1="562.4" x2="256.56" y2="562.4" stroke="#04327e" stroke-width="1.0"/>
<line x1="308.13" y1="580.51" x2="308.13" y2="569.19" stroke="#04327e" stroke-width="1.0"/>
<line x1="304.93" y1="580.51" x2="311.33" y2="580.51" stroke="#04327e" stroke-width="1.0"/>
<line x1="304.93" y1="569.19" x2="311.33" y2="569.19" stroke="#04327e" stroke-width="1.0"/>
<path d="M70.8 474.1 L89.06 575.75 L107.31 574.51 L125.57 572.7 L143.82 575.3 L180.34 570.09 L216.85 572.81 L253.36 571.11 L308.13 574.62" fill="none" stroke="#04327e" stroke-width="1.9" stroke-linejoin="round"/>
<circle cx="70.8" cy="474.1" r="3.5" fill="#04327e"/>
<circle cx="89.06" cy="575.75" r="3.5" fill="#04327e"/>
<circle cx="107.31" cy="574.51" r="3.5" fill="#04327e"/>
<circle cx="125.57" cy="572.7" r="3.5" fill="#04327e"/>
<circle cx="143.82" cy="575.3" r="3.5" fill="#04327e"/>
<circle cx="180.34" cy="570.09" r="3.5" fill="#04327e"/>
<circle cx="216.85" cy="572.81" r="3.5" fill="#04327e"/>
<circle cx="253.36" cy="571.11" r="3.5" fill="#04327e"/>
<circle cx="308.13" cy="574.62" r="3.5" fill="#04327e"/>
<path d="M70.8 474.1 L89.06 566.24 L107.31 562.17 L125.57 565.68 L143.82 569.75 L180.34 564.55 L216.85 564.09 L253.36 565.34 L308.13 569.53" fill="none" stroke="#1896c6" stroke-width="1.9" stroke-linejoin="round"/>
<circle cx="70.8" cy="474.1" r="3.5" fill="#1896c6"/>
<circle cx="89.06" cy="566.24" r="3.5" fill="#1896c6"/>
<circle cx="107.31" cy="562.17" r="3.5" fill="#1896c6"/>
<circle cx="125.57" cy="565.68" r="3.5" fill="#1896c6"/>
<circle cx="143.82" cy="569.75" r="3.5" fill="#1896c6"/>
<circle cx="180.34" cy="564.55" r="3.5" fill="#1896c6"/>
<circle cx="216.85" cy="564.09" r="3.5" fill="#1896c6"/>
<circle cx="253.36" cy="565.34" r="3.5" fill="#1896c6"/>
<circle cx="308.13" cy="569.53" r="3.5" fill="#1896c6"/>
<path d="M70.8 474.1 L89.06 527.19 L107.31 536.36 L125.57 539.42 L143.82 534.66 L180.34 520.74 L216.85 528.55 L253.36 541 L308.13 531.04" fill="none" stroke="#7bbfc6" stroke-width="1.9" stroke-linejoin="round"/>
<circle cx="70.8" cy="474.1" r="3.5" fill="#7bbfc6"/>
<circle cx="89.06" cy="527.19" r="3.5" fill="#7bbfc6"/>
<circle cx="107.31" cy="536.36" r="3.5" fill="#7bbfc6"/>
<circle cx="125.57" cy="539.42" r="3.5" fill="#7bbfc6"/>
<circle cx="143.82" cy="534.66" r="3.5" fill="#7bbfc6"/>
<circle cx="180.34" cy="520.74" r="3.5" fill="#7bbfc6"/>
<circle cx="216.85" cy="528.55" r="3.5" fill="#7bbfc6"/>
<circle cx="253.36" cy="541" r="3.5" fill="#7bbfc6"/>
<circle cx="308.13" cy="531.04" r="3.5" fill="#7bbfc6"/>
<path d="M70.8 474.1 L89.06 455.99 L107.31 494.14 L125.57 521.87 L143.82 513.15 L180.34 500.14 L216.85 477.16 L253.36 503.98 L308.13 474.1" fill="none" stroke="#808080" stroke-width="1.9" stroke-linejoin="round"/>
<circle cx="70.8" cy="474.1" r="3.5" fill="#808080"/>
<circle cx="89.06" cy="455.99" r="3.5" fill="#808080"/>
<circle cx="107.31" cy="494.14" r="3.5" fill="#808080"/>
<circle cx="125.57" cy="521.87" r="3.5" fill="#808080"/>
<circle cx="143.82" cy="513.15" r="3.5" fill="#808080"/>
<circle cx="180.34" cy="500.14" r="3.5" fill="#808080"/>
<circle cx="216.85" cy="477.16" r="3.5" fill="#808080"/>
<circle cx="253.36" cy="503.98" r="3.5" fill="#808080"/>
<circle cx="308.13" cy="474.1" r="3.5" fill="#808080"/>
<line x1="130.5" y1="375.5" x2="149.9" y2="375.5" stroke="#808080" stroke-width="1.9"/>
<circle cx="140.3" cy="375.5" r="3.5" fill="#808080"/>
<text x="155" y="378.6" font-size="8.8" textLength="29.3" lengthAdjust="spacingAndGlyphs">Vehicle</text>
<line x1="130.5" y1="391.9" x2="149.9" y2="391.9" stroke="#7bbfc6" stroke-width="1.9"/>
<circle cx="140.3" cy="391.9" r="3.5" fill="#7bbfc6"/>
<text x="155" y="395" font-size="8.8" fill="#231f20"><tspan textLength="99.6" lengthAdjust="spacingAndGlyphs">PCSK9-EE-V2 | 0.5 mg kg</tspan><tspan font-size="5" dy="-3.9">−1</tspan></text>
<line x1="130.5" y1="408.2" x2="149.9" y2="408.2" stroke="#1896c6" stroke-width="1.9"/>
<circle cx="140.3" cy="408.2" r="3.5" fill="#1896c6"/>
<text x="155" y="411.3" font-size="8.8" fill="#231f20"><tspan textLength="99.6" lengthAdjust="spacingAndGlyphs">PCSK9-EE-V2 | 1.0 mg kg</tspan><tspan font-size="5" dy="-3.9">−1</tspan></text>
<line x1="130.5" y1="424.6" x2="149.9" y2="424.6" stroke="#04327e" stroke-width="1.9"/>
<circle cx="140.3" cy="424.6" r="3.5" fill="#04327e"/>
<text x="155" y="427.7" font-size="8.8" fill="#231f20"><tspan textLength="99.6" lengthAdjust="spacingAndGlyphs">PCSK9-EE-V2 | 1.5 mg kg</tspan><tspan font-size="5" dy="-3.9">−1</tspan></text>
<line x1="404.7" y1="417.4" x2="404.7" y2="586.9" stroke="#555" stroke-width="0.8"/>
<line x1="400.4" y1="586.9" x2="659.6" y2="586.9" stroke="#555" stroke-width="0.8"/>
<line x1="400.4" y1="586.9" x2="404.7" y2="586.9" stroke="#555" stroke-width="0.8"/>
<text x="394.7" y="590.7" font-size="8.7" text-anchor="end" fill="#222">0</text>
<line x1="400.4" y1="558.65" x2="404.7" y2="558.65" stroke="#555" stroke-width="0.8"/>
<text x="394.7" y="562.45" font-size="8.7" text-anchor="end" fill="#222">25</text>
<line x1="400.4" y1="530.4" x2="404.7" y2="530.4" stroke="#555" stroke-width="0.8"/>
<text x="394.7" y="534.2" font-size="8.7" text-anchor="end" fill="#222">50</text>
<line x1="400.4" y1="502.15" x2="404.7" y2="502.15" stroke="#555" stroke-width="0.8"/>
<text x="394.7" y="505.95" font-size="8.7" text-anchor="end" fill="#222">75</text>
<line x1="400.4" y1="473.9" x2="404.7" y2="473.9" stroke="#555" stroke-width="0.8"/>
<text x="394.7" y="477.7" font-size="8.7" text-anchor="end" fill="#222">100</text>
<line x1="400.4" y1="445.65" x2="404.7" y2="445.65" stroke="#555" stroke-width="0.8"/>
<text x="394.7" y="449.45" font-size="8.7" text-anchor="end" fill="#222">125</text>
<line x1="400.4" y1="417.4" x2="404.7" y2="417.4" stroke="#555" stroke-width="0.8"/>
<text x="394.7" y="421.2" font-size="8.7" text-anchor="end" fill="#222">150</text>
<line x1="404.7" y1="586.9" x2="404.7" y2="591.4" stroke="#555" stroke-width="0.8"/>
<text x="404.7" y="603.6" font-size="8.7" text-anchor="middle" fill="#222">0</text>
<line x1="441.11" y1="586.9" x2="441.11" y2="591.4" stroke="#555" stroke-width="0.8"/>
<text x="441.11" y="603.6" font-size="8.7" text-anchor="middle" fill="#222">14</text>
<line x1="477.53" y1="586.9" x2="477.53" y2="591.4" stroke="#555" stroke-width="0.8"/>
<text x="477.53" y="603.6" font-size="8.7" text-anchor="middle" fill="#222">28</text>
<line x1="513.94" y1="586.9" x2="513.94" y2="591.4" stroke="#555" stroke-width="0.8"/>
<text x="513.94" y="603.6" font-size="8.7" text-anchor="middle" fill="#222">42</text>
<line x1="550.36" y1="586.9" x2="550.36" y2="591.4" stroke="#555" stroke-width="0.8"/>
<text x="550.36" y="603.6" font-size="8.7" text-anchor="middle" fill="#222">56</text>
<line x1="586.77" y1="586.9" x2="586.77" y2="591.4" stroke="#555" stroke-width="0.8"/>
<text x="586.77" y="603.6" font-size="8.7" text-anchor="middle" fill="#222">70</text>
<line x1="623.18" y1="586.9" x2="623.18" y2="591.4" stroke="#555" stroke-width="0.8"/>
<text x="623.18" y="603.6" font-size="8.7" text-anchor="middle" fill="#222">84</text>
<line x1="659.6" y1="586.9" x2="659.6" y2="591.4" stroke="#555" stroke-width="0.8"/>
<text x="659.6" y="603.6" font-size="8.7" text-anchor="middle" fill="#222">98</text>
<text x="532.15" y="619.1" font-size="10" text-anchor="middle" textLength="72.5" lengthAdjust="spacingAndGlyphs">Days after dose</text>
<text transform="translate(371,502) rotate(-90)" font-size="10" text-anchor="middle" fill="#231f20" textLength="88" lengthAdjust="spacingAndGlyphs">LDL-C (% baseline)</text>
<line x1="404.7" y1="473.9" x2="659.6" y2="473.9" stroke="#666" stroke-width="1.1" stroke-dasharray="4 2.6"/>
<line x1="422.91" y1="463.84" x2="422.91" y2="441.02" stroke="#808080" stroke-width="1.0"/>
<line x1="419.71" y1="463.84" x2="426.11" y2="463.84" stroke="#808080" stroke-width="1.0"/>
<line x1="419.71" y1="441.02" x2="426.11" y2="441.02" stroke="#808080" stroke-width="1.0"/>
<line x1="441.11" y1="487.69" x2="441.11" y2="456.38" stroke="#808080" stroke-width="1.0"/>
<line x1="437.91" y1="487.69" x2="444.31" y2="487.69" stroke="#808080" stroke-width="1.0"/>
<line x1="437.91" y1="456.38" x2="444.31" y2="456.38" stroke="#808080" stroke-width="1.0"/>
<line x1="477.53" y1="470.62" x2="477.53" y2="434.8" stroke="#808080" stroke-width="1.0"/>
<line x1="474.33" y1="470.62" x2="480.73" y2="470.62" stroke="#808080" stroke-width="1.0"/>
<line x1="474.33" y1="434.8" x2="480.73" y2="434.8" stroke="#808080" stroke-width="1.0"/>
<line x1="513.94" y1="473.33" x2="513.94" y2="438.53" stroke="#808080" stroke-width="1.0"/>
<line x1="510.74" y1="473.33" x2="517.14" y2="473.33" stroke="#808080" stroke-width="1.0"/>
<line x1="510.74" y1="438.53" x2="517.14" y2="438.53" stroke="#808080" stroke-width="1.0"/>
<line x1="550.36" y1="500.57" x2="550.36" y2="468.59" stroke="#808080" stroke-width="1.0"/>
<line x1="547.16" y1="500.57" x2="553.56" y2="500.57" stroke="#808080" stroke-width="1.0"/>
<line x1="547.16" y1="468.59" x2="553.56" y2="468.59" stroke="#808080" stroke-width="1.0"/>
<line x1="586.77" y1="483.73" x2="586.77" y2="449.15" stroke="#808080" stroke-width="1.0"/>
<line x1="583.57" y1="483.73" x2="589.97" y2="483.73" stroke="#808080" stroke-width="1.0"/>
<line x1="583.57" y1="449.15" x2="589.97" y2="449.15" stroke="#808080" stroke-width="1.0"/>
<line x1="641.39" y1="502.6" x2="641.39" y2="458.87" stroke="#808080" stroke-width="1.0"/>
<line x1="638.19" y1="502.6" x2="644.59" y2="502.6" stroke="#808080" stroke-width="1.0"/>
<line x1="638.19" y1="458.87" x2="644.59" y2="458.87" stroke="#808080" stroke-width="1.0"/>
<line x1="422.91" y1="550.97" x2="422.91" y2="475.59" stroke="#7bbfc6" stroke-width="1.0"/>
<line x1="419.71" y1="550.97" x2="426.11" y2="550.97" stroke="#7bbfc6" stroke-width="1.0"/>
<line x1="419.71" y1="475.59" x2="426.11" y2="475.59" stroke="#7bbfc6" stroke-width="1.0"/>
<line x1="441.11" y1="553.9" x2="441.11" y2="510.62" stroke="#7bbfc6" stroke-width="1.0"/>
<line x1="437.91" y1="553.9" x2="444.31" y2="553.9" stroke="#7bbfc6" stroke-width="1.0"/>
<line x1="437.91" y1="510.62" x2="444.31" y2="510.62" stroke="#7bbfc6" stroke-width="1.0"/>
<line x1="477.53" y1="546.22" x2="477.53" y2="488.93" stroke="#7bbfc6" stroke-width="1.0"/>
<line x1="474.33" y1="546.22" x2="480.73" y2="546.22" stroke="#7bbfc6" stroke-width="1.0"/>
<line x1="474.33" y1="488.93" x2="480.73" y2="488.93" stroke="#7bbfc6" stroke-width="1.0"/>
<line x1="513.94" y1="553.45" x2="513.94" y2="484.52" stroke="#7bbfc6" stroke-width="1.0"/>
<line x1="510.74" y1="553.45" x2="517.14" y2="553.45" stroke="#7bbfc6" stroke-width="1.0"/>
<line x1="510.74" y1="484.52" x2="517.14" y2="484.52" stroke="#7bbfc6" stroke-width="1.0"/>
<line x1="550.36" y1="545.2" x2="550.36" y2="514.69" stroke="#7bbfc6" stroke-width="1.0"/>
<line x1="547.16" y1="545.2" x2="553.56" y2="545.2" stroke="#7bbfc6" stroke-width="1.0"/>
<line x1="547.16" y1="514.69" x2="553.56" y2="514.69" stroke="#7bbfc6" stroke-width="1.0"/>
<line x1="586.77" y1="539.44" x2="586.77" y2="492.43" stroke="#7bbfc6" stroke-width="1.0"/>
<line x1="583.57" y1="539.44" x2="589.97" y2="539.44" stroke="#7bbfc6" stroke-width="1.0"/>
<line x1="583.57" y1="492.43" x2="589.97" y2="492.43" stroke="#7bbfc6" stroke-width="1.0"/>
<line x1="641.39" y1="552.66" x2="641.39" y2="483.73" stroke="#7bbfc6" stroke-width="1.0"/>
<line x1="638.19" y1="552.66" x2="644.59" y2="552.66" stroke="#7bbfc6" stroke-width="1.0"/>
<line x1="638.19" y1="483.73" x2="644.59" y2="483.73" stroke="#7bbfc6" stroke-width="1.0"/>
<line x1="422.91" y1="541.47" x2="422.91" y2="482.94" stroke="#1896c6" stroke-width="1.0"/>
<line x1="419.71" y1="541.47" x2="426.11" y2="541.47" stroke="#1896c6" stroke-width="1.0"/>
<line x1="419.71" y1="482.94" x2="426.11" y2="482.94" stroke="#1896c6" stroke-width="1.0"/>
<line x1="441.11" y1="566.56" x2="441.11" y2="543.73" stroke="#1896c6" stroke-width="1.0"/>
<line x1="437.91" y1="566.56" x2="444.31" y2="566.56" stroke="#1896c6" stroke-width="1.0"/>
<line x1="437.91" y1="543.73" x2="444.31" y2="543.73" stroke="#1896c6" stroke-width="1.0"/>
<line x1="477.53" y1="536.05" x2="477.53" y2="524.75" stroke="#1896c6" stroke-width="1.0"/>
<line x1="474.33" y1="536.05" x2="480.73" y2="536.05" stroke="#1896c6" stroke-width="1.0"/>
<line x1="474.33" y1="524.75" x2="480.73" y2="524.75" stroke="#1896c6" stroke-width="1.0"/>
<line x1="513.94" y1="553.45" x2="513.94" y2="501.25" stroke="#1896c6" stroke-width="1.0"/>
<line x1="510.74" y1="553.45" x2="517.14" y2="553.45" stroke="#1896c6" stroke-width="1.0"/>
<line x1="510.74" y1="501.25" x2="517.14" y2="501.25" stroke="#1896c6" stroke-width="1.0"/>
<line x1="550.36" y1="573.79" x2="550.36" y2="545.09" stroke="#1896c6" stroke-width="1.0"/>
<line x1="547.16" y1="573.79" x2="553.56" y2="573.79" stroke="#1896c6" stroke-width="1.0"/>
<line x1="547.16" y1="545.09" x2="553.56" y2="545.09" stroke="#1896c6" stroke-width="1.0"/>
<line x1="586.77" y1="561.36" x2="586.77" y2="523.62" stroke="#1896c6" stroke-width="1.0"/>
<line x1="583.57" y1="561.36" x2="589.97" y2="561.36" stroke="#1896c6" stroke-width="1.0"/>
<line x1="583.57" y1="523.62" x2="589.97" y2="523.62" stroke="#1896c6" stroke-width="1.0"/>
<line x1="641.39" y1="558.88" x2="641.39" y2="540.57" stroke="#1896c6" stroke-width="1.0"/>
<line x1="638.19" y1="558.88" x2="644.59" y2="558.88" stroke="#1896c6" stroke-width="1.0"/>
<line x1="638.19" y1="540.57" x2="644.59" y2="540.57" stroke="#1896c6" stroke-width="1.0"/>
<line x1="422.91" y1="538.88" x2="422.91" y2="482.49" stroke="#04327e" stroke-width="1.0"/>
<line x1="419.71" y1="538.88" x2="426.11" y2="538.88" stroke="#04327e" stroke-width="1.0"/>
<line x1="419.71" y1="482.49" x2="426.11" y2="482.49" stroke="#04327e" stroke-width="1.0"/>
<line x1="441.11" y1="565.43" x2="441.11" y2="553" stroke="#04327e" stroke-width="1.0"/>
<line x1="437.91" y1="565.43" x2="444.31" y2="565.43" stroke="#04327e" stroke-width="1.0"/>
<line x1="437.91" y1="553" x2="444.31" y2="553" stroke="#04327e" stroke-width="1.0"/>
<line x1="477.53" y1="546.11" x2="477.53" y2="536.62" stroke="#04327e" stroke-width="1.0"/>
<line x1="474.33" y1="546.11" x2="480.73" y2="546.11" stroke="#04327e" stroke-width="1.0"/>
<line x1="474.33" y1="536.62" x2="480.73" y2="536.62" stroke="#04327e" stroke-width="1.0"/>
<line x1="513.94" y1="540.34" x2="513.94" y2="520.46" stroke="#04327e" stroke-width="1.0"/>
<line x1="510.74" y1="540.34" x2="517.14" y2="540.34" stroke="#04327e" stroke-width="1.0"/>
<line x1="510.74" y1="520.46" x2="517.14" y2="520.46" stroke="#04327e" stroke-width="1.0"/>
<line x1="550.36" y1="568.82" x2="550.36" y2="540.34" stroke="#04327e" stroke-width="1.0"/>
<line x1="547.16" y1="568.82" x2="553.56" y2="568.82" stroke="#04327e" stroke-width="1.0"/>
<line x1="547.16" y1="540.34" x2="553.56" y2="540.34" stroke="#04327e" stroke-width="1.0"/>
<line x1="586.77" y1="574.24" x2="586.77" y2="528.37" stroke="#04327e" stroke-width="1.0"/>
<line x1="583.57" y1="574.24" x2="589.97" y2="574.24" stroke="#04327e" stroke-width="1.0"/>
<line x1="583.57" y1="528.37" x2="589.97" y2="528.37" stroke="#04327e" stroke-width="1.0"/>
<line x1="641.39" y1="556.39" x2="641.39" y2="535.26" stroke="#04327e" stroke-width="1.0"/>
<line x1="638.19" y1="556.39" x2="644.59" y2="556.39" stroke="#04327e" stroke-width="1.0"/>
<line x1="638.19" y1="535.26" x2="644.59" y2="535.26" stroke="#04327e" stroke-width="1.0"/>
<path d="M404.7 473.9 L422.91 513.45 L441.11 559.67 L477.53 541.47 L513.94 530.17 L550.36 555.26 L586.77 550.85 L641.39 546.45" fill="none" stroke="#04327e" stroke-width="1.9" stroke-linejoin="round"/>
<circle cx="404.7" cy="473.9" r="3.5" fill="#04327e"/>
<circle cx="422.91" cy="513.45" r="3.5" fill="#04327e"/>
<circle cx="441.11" cy="559.67" r="3.5" fill="#04327e"/>
<circle cx="477.53" cy="541.47" r="3.5" fill="#04327e"/>
<circle cx="513.94" cy="530.17" r="3.5" fill="#04327e"/>
<circle cx="550.36" cy="555.26" r="3.5" fill="#04327e"/>
<circle cx="586.77" cy="550.85" r="3.5" fill="#04327e"/>
<circle cx="641.39" cy="546.45" r="3.5" fill="#04327e"/>
<path d="M404.7 473.9 L422.91 517.18 L441.11 555.26 L477.53 529.84 L513.94 527.46 L550.36 564.3 L586.77 537.86 L641.39 550.74" fill="none" stroke="#1896c6" stroke-width="1.9" stroke-linejoin="round"/>
<circle cx="404.7" cy="473.9" r="3.5" fill="#1896c6"/>
<circle cx="422.91" cy="517.18" r="3.5" fill="#1896c6"/>
<circle cx="441.11" cy="555.26" r="3.5" fill="#1896c6"/>
<circle cx="477.53" cy="529.84" r="3.5" fill="#1896c6"/>
<circle cx="513.94" cy="527.46" r="3.5" fill="#1896c6"/>
<circle cx="550.36" cy="564.3" r="3.5" fill="#1896c6"/>
<circle cx="586.77" cy="537.86" r="3.5" fill="#1896c6"/>
<circle cx="641.39" cy="550.74" r="3.5" fill="#1896c6"/>
<path d="M404.7 473.9 L422.91 508.93 L441.11 530.74 L477.53 513.45 L513.94 508.37 L550.36 529.95 L586.77 516.05 L641.39 519.89" fill="none" stroke="#7bbfc6" stroke-width="1.9" stroke-linejoin="round"/>
<circle cx="404.7" cy="473.9" r="3.5" fill="#7bbfc6"/>
<circle cx="422.91" cy="508.93" r="3.5" fill="#7bbfc6"/>
<circle cx="441.11" cy="530.74" r="3.5" fill="#7bbfc6"/>
<circle cx="477.53" cy="513.45" r="3.5" fill="#7bbfc6"/>
<circle cx="513.94" cy="508.37" r="3.5" fill="#7bbfc6"/>
<circle cx="550.36" cy="529.95" r="3.5" fill="#7bbfc6"/>
<circle cx="586.77" cy="516.05" r="3.5" fill="#7bbfc6"/>
<circle cx="641.39" cy="519.89" r="3.5" fill="#7bbfc6"/>
<path d="M404.7 473.9 L422.91 452.66 L441.11 472.09 L477.53 452.88 L513.94 455.37 L550.36 484.41 L586.77 466.56 L641.39 480.68" fill="none" stroke="#808080" stroke-width="1.9" stroke-linejoin="round"/>
<circle cx="404.7" cy="473.9" r="3.5" fill="#808080"/>
<circle cx="422.91" cy="452.66" r="3.5" fill="#808080"/>
<circle cx="441.11" cy="472.09" r="3.5" fill="#808080"/>
<circle cx="477.53" cy="452.88" r="3.5" fill="#808080"/>
<circle cx="513.94" cy="455.37" r="3.5" fill="#808080"/>
<circle cx="550.36" cy="484.41" r="3.5" fill="#808080"/>
<circle cx="586.77" cy="466.56" r="3.5" fill="#808080"/>
<circle cx="641.39" cy="480.68" r="3.5" fill="#808080"/>
<line x1="454" y1="375.5" x2="473.4" y2="375.5" stroke="#808080" stroke-width="1.9"/>
<circle cx="463.8" cy="375.5" r="3.5" fill="#808080"/>
<text x="478.5" y="378.6" font-size="8.8" textLength="29.3" lengthAdjust="spacingAndGlyphs">Vehicle</text>
<line x1="454" y1="391.9" x2="473.4" y2="391.9" stroke="#7bbfc6" stroke-width="1.9"/>
<circle cx="463.8" cy="391.9" r="3.5" fill="#7bbfc6"/>
<text x="478.5" y="395" font-size="8.8" fill="#231f20"><tspan textLength="99.6" lengthAdjust="spacingAndGlyphs">PCSK9-EE-V2 | 0.5 mg kg</tspan><tspan font-size="5" dy="-3.9">−1</tspan></text>
<line x1="454" y1="408.2" x2="473.4" y2="408.2" stroke="#1896c6" stroke-width="1.9"/>
<circle cx="463.8" cy="408.2" r="3.5" fill="#1896c6"/>
<text x="478.5" y="411.3" font-size="8.8" fill="#231f20"><tspan textLength="99.6" lengthAdjust="spacingAndGlyphs">PCSK9-EE-V2 | 1.0 mg kg</tspan><tspan font-size="5" dy="-3.9">−1</tspan></text>
<line x1="454" y1="424.6" x2="473.4" y2="424.6" stroke="#04327e" stroke-width="1.9"/>
<circle cx="463.8" cy="424.6" r="3.5" fill="#04327e"/>
<text x="478.5" y="427.7" font-size="8.8" fill="#231f20"><tspan textLength="99.6" lengthAdjust="spacingAndGlyphs">PCSK9-EE-V2 | 1.5 mg kg</tspan><tspan font-size="5" dy="-3.9">−1</tspan></text>
<text x="0.1" y="638.8" font-size="15" fill="#000" font-weight="bold" stroke="#000" stroke-width="0.3">d</text>
<line x1="78" y1="644.9" x2="236.2" y2="644.9" stroke="#5b6b82" stroke-width="1.2"/>
<line x1="273" y1="644.9" x2="431" y2="644.9" stroke="#5b6b82" stroke-width="1.2"/>
<path d="M75.6 644.9 L79.8 642.7 L79.8 647.1 Z" fill="#5b6b82"/>
<path d="M433.5 644.9 L429.3 642.7 L429.3 647.1 Z" fill="#5b6b82"/>
<text x="254.6" y="648" font-size="9.4" text-anchor="middle" textLength="23.2" lengthAdjust="spacingAndGlyphs">1.8 kb</text>
<text x="109.2" y="653.4" font-size="4.4" text-anchor="middle" fill="#333" textLength="29.5" lengthAdjust="spacingAndGlyphs">189,045,000 bp</text>
<text x="149.25" y="653.4" font-size="4.4" text-anchor="middle" fill="#333" textLength="29.5" lengthAdjust="spacingAndGlyphs">189,045,200 bp</text>
<text x="189.3" y="653.4" font-size="4.4" text-anchor="middle" fill="#333" textLength="29.5" lengthAdjust="spacingAndGlyphs">189,045,400 bp</text>
<text x="229.35" y="653.4" font-size="4.4" text-anchor="middle" fill="#333" textLength="29.5" lengthAdjust="spacingAndGlyphs">189,045,600 bp</text>
<text x="269.4" y="653.4" font-size="4.4" text-anchor="middle" fill="#333" textLength="29.5" lengthAdjust="spacingAndGlyphs">189,045,800 bp</text>
<text x="309.45" y="653.4" font-size="4.4" text-anchor="middle" fill="#333" textLength="29.5" lengthAdjust="spacingAndGlyphs">189,046,000 bp</text>
<text x="349.5" y="653.4" font-size="4.4" text-anchor="middle" fill="#333" textLength="29.5" lengthAdjust="spacingAndGlyphs">189,046,200 bp</text>
<text x="389.55" y="653.4" font-size="4.4" text-anchor="middle" fill="#333" textLength="29.5" lengthAdjust="spacingAndGlyphs">189,046,400 bp</text>
<text x="429.6" y="653.4" font-size="4.4" text-anchor="middle" fill="#333" textLength="23.5" lengthAdjust="spacingAndGlyphs">189,046,600</text>
<line x1="71.7" y1="659.2" x2="433.7" y2="659.2" stroke="#444" stroke-width="0.8"/>
<rect x="90" y="657" width="1" height="2.2" fill="#555"/>
<rect x="110" y="657" width="1" height="2.2" fill="#555"/>
<rect x="129" y="657" width="1" height="2.2" fill="#555"/>
<rect x="149" y="657" width="1" height="2.2" fill="#555"/>
<rect x="169" y="657" width="1" height="2.2" fill="#555"/>
<rect x="189" y="657" width="1" height="2.2" fill="#555"/>
<rect x="209" y="657" width="1" height="2.2" fill="#555"/>
<rect x="229" y="657" width="1" height="2.2" fill="#555"/>
<rect x="249" y="657" width="1" height="2.2" fill="#555"/>
<rect x="269" y="657" width="1" height="2.2" fill="#555"/>
<rect x="289" y="657" width="1" height="2.2" fill="#555"/>
<rect x="308" y="657" width="1" height="2.2" fill="#555"/>
<rect x="328" y="657" width="1" height="2.2" fill="#555"/>
<rect x="348" y="657" width="1" height="2.2" fill="#555"/>
<rect x="368" y="657" width="1" height="2.2" fill="#555"/>
<rect x="388" y="657" width="1" height="2.2" fill="#555"/>
<rect x="408" y="657" width="1" height="2.2" fill="#555"/>
<rect x="428" y="657" width="1" height="2.2" fill="#555"/>
<rect x="71.7" y="660.8" width="362" height="2.6" fill="#f0f0f0"/>
<line x1="71.7" y1="666.3" x2="433.7" y2="666.3" stroke="#555" stroke-width="0.6"/>
<line x1="71.7" y1="669.3" x2="433.7" y2="669.3" stroke="#222" stroke-width="1.1"/>
<line x1="71.7" y1="672.9" x2="312" y2="672.9" stroke="#555" stroke-width="0.6"/>
<line x1="71.7" y1="676.5" x2="312" y2="676.5" stroke="#555" stroke-width="0.6"/>
<rect x="75" y="665.6" width="1" height="1.4" fill="#555"/>
<rect x="84" y="665.6" width="1" height="1.4" fill="#555"/>
<rect x="93" y="665.6" width="1" height="1.4" fill="#555"/>
<rect x="101" y="665.6" width="1" height="1.4" fill="#555"/>
<rect x="110" y="665.6" width="1" height="1.4" fill="#555"/>
<rect x="119" y="665.6" width="1" height="1.4" fill="#555"/>
<rect x="128" y="665.6" width="1" height="1.4" fill="#555"/>
<rect x="137" y="665.6" width="1" height="1.4" fill="#555"/>
<rect x="145" y="665.6" width="1" height="1.4" fill="#555"/>
<rect x="154" y="665.6" width="1" height="1.4" fill="#555"/>
<rect x="163" y="665.6" width="1" height="1.4" fill="#555"/>
<rect x="172" y="665.6" width="1" height="1.4" fill="#555"/>
<rect x="181" y="665.6" width="1" height="1.4" fill="#555"/>
<rect x="189" y="665.6" width="1" height="1.4" fill="#555"/>
<rect x="198" y="665.6" width="1" height="1.4" fill="#555"/>
<rect x="207" y="665.6" width="1" height="1.4" fill="#555"/>
<rect x="216" y="665.6" width="1" height="1.4" fill="#555"/>
<rect x="225" y="665.6" width="1" height="1.4" fill="#555"/>
<rect x="233" y="665.6" width="1" height="1.4" fill="#555"/>
<rect x="242" y="665.6" width="1" height="1.4" fill="#555"/>
<rect x="251" y="665.6" width="1" height="1.4" fill="#555"/>
<rect x="260" y="665.6" width="1" height="1.4" fill="#555"/>
<rect x="269" y="665.6" width="1" height="1.4" fill="#555"/>
<rect x="277" y="665.6" width="1" height="1.4" fill="#555"/>
<rect x="286" y="665.6" width="1" height="1.4" fill="#555"/>
<rect x="295" y="665.6" width="1" height="1.4" fill="#555"/>
<rect x="304" y="665.6" width="1" height="1.4" fill="#555"/>
<rect x="313" y="665.6" width="1" height="1.4" fill="#555"/>
<rect x="321" y="665.6" width="1" height="1.4" fill="#555"/>
<rect x="330" y="665.6" width="1" height="1.4" fill="#555"/>
<rect x="339" y="665.6" width="1" height="1.4" fill="#555"/>
<rect x="348" y="665.6" width="1" height="1.4" fill="#555"/>
<rect x="357" y="665.6" width="1" height="1.4" fill="#555"/>
<rect x="365" y="665.6" width="1" height="1.4" fill="#555"/>
<rect x="374" y="665.6" width="1" height="1.4" fill="#555"/>
<rect x="383" y="665.6" width="1" height="1.4" fill="#555"/>
<rect x="392" y="665.6" width="1" height="1.4" fill="#555"/>
<rect x="401" y="665.6" width="1" height="1.4" fill="#555"/>
<rect x="409" y="665.6" width="1" height="1.4" fill="#555"/>
<rect x="418" y="665.6" width="1" height="1.4" fill="#555"/>
<rect x="427" y="665.6" width="1" height="1.4" fill="#555"/>
<rect x="80" y="672.2" width="1" height="1.2" fill="#777"/>
<rect x="80" y="675.8" width="1" height="1.2" fill="#777"/>
<rect x="88" y="672.2" width="1" height="1.2" fill="#777"/>
<rect x="88" y="675.8" width="1" height="1.2" fill="#777"/>
<rect x="96" y="672.2" width="1" height="1.2" fill="#777"/>
<rect x="96" y="675.8" width="1" height="1.2" fill="#777"/>
<rect x="104" y="672.2" width="1" height="1.2" fill="#777"/>
<rect x="104" y="675.8" width="1" height="1.2" fill="#777"/>
<rect x="112" y="672.2" width="1" height="1.2" fill="#777"/>
<rect x="112" y="675.8" width="1" height="1.2" fill="#777"/>
<rect x="120" y="672.2" width="1" height="1.2" fill="#777"/>
<rect x="120" y="675.8" width="1" height="1.2" fill="#777"/>
<rect x="128" y="672.2" width="1" height="1.2" fill="#777"/>
<rect x="128" y="675.8" width="1" height="1.2" fill="#777"/>
<rect x="136" y="672.2" width="1" height="1.2" fill="#777"/>
<rect x="136" y="675.8" width="1" height="1.2" fill="#777"/>
<rect x="144" y="672.2" width="1" height="1.2" fill="#777"/>
<rect x="144" y="675.8" width="1" height="1.2" fill="#777"/>
<rect x="152" y="672.2" width="1" height="1.2" fill="#777"/>
<rect x="152" y="675.8" width="1" height="1.2" fill="#777"/>
<rect x="160" y="672.2" width="1" height="1.2" fill="#777"/>
<rect x="160" y="675.8" width="1" height="1.2" fill="#777"/>
<rect x="168" y="672.2" width="1" height="1.2" fill="#777"/>
<rect x="168" y="675.8" width="1" height="1.2" fill="#777"/>
<rect x="176" y="672.2" width="1" height="1.2" fill="#777"/>
<rect x="176" y="675.8" width="1" height="1.2" fill="#777"/>
<rect x="184" y="672.2" width="1" height="1.2" fill="#777"/>
<rect x="184" y="675.8" width="1" height="1.2" fill="#777"/>
<rect x="192" y="672.2" width="1" height="1.2" fill="#777"/>
<rect x="192" y="675.8" width="1" height="1.2" fill="#777"/>
<rect x="199.8" y="671.8" width="112" height="2.1" fill="#000"/>
<rect x="199.8" y="675.4" width="112" height="2.1" fill="#000"/>
<rect x="208.3" y="671.8" width="0.5" height="5.7" fill="#bbb"/>
<rect x="216.8" y="671.8" width="0.5" height="5.7" fill="#bbb"/>
<rect x="225.3" y="671.8" width="0.5" height="5.7" fill="#bbb"/>
<rect x="233.8" y="671.8" width="0.5" height="5.7" fill="#bbb"/>
<rect x="242.3" y="671.8" width="0.5" height="5.7" fill="#bbb"/>
<rect x="250.8" y="671.8" width="0.5" height="5.7" fill="#bbb"/>
<rect x="259.3" y="671.8" width="0.5" height="5.7" fill="#bbb"/>
<rect x="267.8" y="671.8" width="0.5" height="5.7" fill="#bbb"/>
<rect x="276.3" y="671.8" width="0.5" height="5.7" fill="#bbb"/>
<rect x="284.8" y="671.8" width="0.5" height="5.7" fill="#bbb"/>
<rect x="293.3" y="671.8" width="0.5" height="5.7" fill="#bbb"/>
<rect x="301.8" y="671.8" width="0.5" height="5.7" fill="#bbb"/>
<rect x="310.3" y="671.8" width="0.5" height="5.7" fill="#bbb"/>
<text x="313.7" y="676.8" font-size="8.4" fill="#333" font-style="italic" textLength="26.7" lengthAdjust="spacingAndGlyphs">cPCSK9</text>
<rect x="72" y="683" width="1" height="7.3" fill="#111"/>
<rect x="87" y="683" width="1" height="7.3" fill="#111"/>
<rect x="91" y="683" width="1" height="7.3" fill="#111"/>
<rect x="97" y="683" width="1" height="7.3" fill="#111"/>
<rect x="100" y="683" width="1" height="7.3" fill="#111"/>
<rect x="106" y="683" width="1" height="7.3" fill="#111"/>
<rect x="111" y="683" width="1" height="7.3" fill="#111"/>
<rect x="121" y="683" width="1" height="7.3" fill="#111"/>
<rect x="130" y="683" width="1" height="7.3" fill="#111"/>
<rect x="131" y="683" width="1" height="7.3" fill="#111"/>
<rect x="140" y="683" width="1" height="7.3" fill="#111"/>
<rect x="143" y="683" width="1" height="7.3" fill="#111"/>
<rect x="146" y="683" width="1" height="7.3" fill="#111"/>
<rect x="151" y="683" width="1" height="7.3" fill="#111"/>
<rect x="153" y="683" width="1" height="7.3" fill="#111"/>
<rect x="154" y="683" width="1" height="7.3" fill="#111"/>
<rect x="156" y="683" width="1" height="7.3" fill="#111"/>
<rect x="158" y="683" width="1" height="7.3" fill="#111"/>
<rect x="159" y="683" width="1" height="7.3" fill="#111"/>
<rect x="160" y="683" width="1" height="7.3" fill="#111"/>
<rect x="161" y="683" width="1" height="7.3" fill="#111"/>
<rect x="162" y="683" width="1" height="7.3" fill="#111"/>
<rect x="164" y="683" width="1" height="7.3" fill="#111"/>
<rect x="165" y="683" width="1" height="7.3" fill="#111"/>
<rect x="167" y="683" width="1" height="7.3" fill="#111"/>
<rect x="172" y="683" width="1" height="7.3" fill="#111"/>
<rect x="174" y="683" width="1" height="7.3" fill="#111"/>
<rect x="176" y="683" width="1" height="7.3" fill="#999"/>
<rect x="186" y="683" width="1" height="7.3" fill="#111"/>
<rect x="188" y="683" width="1" height="7.3" fill="#111"/>
<rect x="190" y="683" width="1" height="7.3" fill="#111"/>
<rect x="192" y="683" width="1" height="7.3" fill="#111"/>
<rect x="197" y="683" width="1" height="7.3" fill="#111"/>
<rect x="199" y="683" width="1" height="7.3" fill="#111"/>
<rect x="201" y="683" width="1" height="7.3" fill="#111"/>
<rect x="206" y="683" width="1" height="7.3" fill="#111"/>
<rect x="208" y="683" width="1" height="7.3" fill="#111"/>
<rect x="209" y="683" width="1" height="7.3" fill="#111"/>
<rect x="211" y="683" width="1" height="7.3" fill="#111"/>
<rect x="213" y="683" width="1" height="7.3" fill="#111"/>
<rect x="217" y="683" width="1" height="7.3" fill="#999"/>
<rect x="219" y="683" width="1" height="7.3" fill="#111"/>
<rect x="221" y="683" width="1" height="7.3" fill="#111"/>
<rect x="223" y="683" width="1" height="7.3" fill="#111"/>
<rect x="225" y="683" width="1" height="7.3" fill="#111"/>
<rect x="226" y="683" width="1" height="7.3" fill="#111"/>
<rect x="232" y="683" width="1" height="7.3" fill="#999"/>
<rect x="235" y="683" width="1" height="7.3" fill="#111"/>
<rect x="237" y="683" width="1" height="7.3" fill="#111"/>
<rect x="239" y="683" width="1" height="7.3" fill="#111"/>
<rect x="241" y="683" width="1" height="7.3" fill="#111"/>
<rect x="246" y="683" width="1" height="7.3" fill="#111"/>
<rect x="250" y="683" width="1" height="7.3" fill="#111"/>
<rect x="252" y="683" width="1" height="7.3" fill="#111"/>
<rect x="254" y="683" width="1" height="7.3" fill="#111"/>
<rect x="257" y="683" width="1" height="7.3" fill="#111"/>
<rect x="265" y="683" width="1" height="7.3" fill="#111"/>
<rect x="267" y="683" width="1" height="7.3" fill="#111"/>
<rect x="268" y="683" width="1" height="7.3" fill="#111"/>
<rect x="274" y="683" width="1" height="7.3" fill="#111"/>
<rect x="276" y="683" width="1" height="7.3" fill="#111"/>
<rect x="278" y="683" width="1" height="7.3" fill="#111"/>
<rect x="280" y="683" width="1" height="7.3" fill="#111"/>
<rect x="287" y="683" width="1" height="7.3" fill="#999"/>
<rect x="290" y="683" width="1" height="7.3" fill="#111"/>
<rect x="293" y="683" width="1" height="7.3" fill="#111"/>
<rect x="295" y="683" width="1" height="7.3" fill="#111"/>
<rect x="297" y="683" width="1" height="7.3" fill="#111"/>
<rect x="299" y="683" width="1" height="7.3" fill="#111"/>
<rect x="304" y="683" width="1" height="7.3" fill="#111"/>
<rect x="306" y="683" width="1" height="7.3" fill="#111"/>
<rect x="308" y="683" width="1" height="7.3" fill="#111"/>
<rect x="312" y="683" width="1" height="7.3" fill="#111"/>
<rect x="317" y="683" width="1" height="7.3" fill="#111"/>
<rect x="319" y="683" width="1" height="7.3" fill="#111"/>
<rect x="324" y="683" width="1" height="7.3" fill="#111"/>
<rect x="326" y="683" width="1" height="7.3" fill="#111"/>
<rect x="329" y="683" width="1" height="7.3" fill="#111"/>
<rect x="340" y="683" width="1" height="7.3" fill="#111"/>
<rect x="341" y="683" width="1" height="7.3" fill="#111"/>
<rect x="345" y="683" width="1" height="7.3" fill="#111"/>
<rect x="348" y="683" width="1" height="7.3" fill="#111"/>
<rect x="351" y="683" width="1" height="7.3" fill="#111"/>
<rect x="373" y="683" width="1" height="7.3" fill="#111"/>
<rect x="376" y="683" width="1" height="7.3" fill="#111"/>
<rect x="383" y="683" width="1" height="7.3" fill="#111"/>
<rect x="392" y="683" width="1" height="7.3" fill="#999"/>
<rect x="402" y="683" width="1" height="7.3" fill="#111"/>
<rect x="421" y="683" width="1" height="7.3" fill="#999"/>
<line x1="71.7" y1="690.4" x2="433.7" y2="690.4" stroke="#777" stroke-width="0.7"/>
<rect x="67.9" y="683.2" width="2.1" height="7.1" fill="#111"/>
<text x="63.9" y="688.8" font-size="9" text-anchor="end" textLength="18" lengthAdjust="spacingAndGlyphs">CpG</text>
<text x="63.4" y="702.8" font-size="9" text-anchor="end" textLength="28.9" lengthAdjust="spacingAndGlyphs">Vehicle</text>
<text x="18.4" y="722.9" font-size="9.4" fill="#231f20"><tspan textLength="37.5" lengthAdjust="spacingAndGlyphs">0.5 mg kg</tspan><tspan font-size="5.2" dy="-4.2">−1</tspan></text>
<text x="19.3" y="747.8" font-size="9.4" fill="#231f20"><tspan textLength="37.5" lengthAdjust="spacingAndGlyphs">1.0 mg kg</tspan><tspan font-size="5.2" dy="-4.2">−1</tspan></text>
<text x="20.1" y="772" font-size="9.4" fill="#231f20"><tspan textLength="37.5" lengthAdjust="spacingAndGlyphs">1.5 mg kg</tspan><tspan font-size="5.2" dy="-4.2">−1</tspan></text>
<text transform="translate(10.8,747.9) rotate(-90)" font-size="10" text-anchor="middle" fill="#231f20" textLength="62.2" lengthAdjust="spacingAndGlyphs">PCSK9-EE-V2</text>
<line x1="15.4" y1="710.7" x2="15.4" y2="782.5" stroke="#555" stroke-width="1"/>
<rect x="67.9" y="692.7" width="2.1" height="14.4" fill="#b3b3b3"/>
<rect x="67.9" y="708.8" width="2.1" height="23.3" fill="#7ec0c6"/>
<rect x="67.9" y="734" width="2.1" height="23.5" fill="#2a9bcc"/>
<rect x="67.9" y="759.1" width="2.1" height="23.2" fill="#173d84"/>
<rect x="71.7" y="697.8" width="362" height="1.2" fill="#a0a0a0"/>
<text x="72.2" y="693.4" font-size="3.6" fill="#555" textLength="11.6" lengthAdjust="spacingAndGlyphs">[0-100]</text>
<rect x="120.25" y="693.95" width="0.9" height="4" fill="#8a8a8a"/>
<rect x="143.05" y="691.95" width="0.9" height="6" fill="#a8a8a8"/>
<rect x="143.85" y="691.95" width="0.9" height="6" fill="#a8a8a8"/>
<rect x="190.95" y="692.95" width="0.9" height="5" fill="#8a8a8a"/>
<rect x="185.25" y="694.95" width="0.9" height="3" fill="#8a8a8a"/>
<rect x="214.55" y="691.95" width="0.9" height="6" fill="#a8a8a8"/>
<rect x="265.55" y="691.95" width="0.9" height="6" fill="#a8a8a8"/>
<rect x="266.85" y="691.95" width="0.9" height="6" fill="#a8a8a8"/>
<rect x="267.95" y="691.95" width="0.9" height="6" fill="#a8a8a8"/>
<rect x="277.25" y="693.95" width="0.9" height="4" fill="#8a8a8a"/>
<rect x="145.55" y="696.95" width="0.9" height="1" fill="#8a8a8a"/>
<rect x="90.85" y="697.35" width="0.9" height="0.6" fill="#8a8a8a"/>
<rect x="102.55" y="697.35" width="0.9" height="0.6" fill="#8a8a8a"/>
<rect x="229.55" y="697.45" width="0.9" height="0.5" fill="#8a8a8a"/>
<rect x="414.05" y="694.45" width="0.9" height="3.5" fill="#8a8a8a"/>
<rect x="401.75" y="696.95" width="0.9" height="1" fill="#8a8a8a"/>
<rect x="420.15" y="696.55" width="0.9" height="1.4" fill="#8a8a8a"/>
<rect x="239.55" y="696.45" width="0.9" height="1.5" fill="#8a8a8a"/>
<rect x="359.55" y="697.45" width="0.9" height="0.5" fill="#8a8a8a"/>
<rect x="382.95" y="696.45" width="0.9" height="1.5" fill="#8a8a8a"/>
<rect x="71.7" y="706.1" width="362" height="1.2" fill="#a0a0a0"/>
<text x="72.2" y="701.7" font-size="3.6" fill="#555" textLength="11.6" lengthAdjust="spacingAndGlyphs">[0-100]</text>
<rect x="120.25" y="702.25" width="0.9" height="4" fill="#8a8a8a"/>
<rect x="185.25" y="702.75" width="0.9" height="3.5" fill="#8a8a8a"/>
<rect x="190.95" y="700.75" width="0.9" height="5.5" fill="#a8a8a8"/>
<rect x="277.25" y="703.25" width="0.9" height="3" fill="#8a8a8a"/>
<rect x="278.55" y="704.75" width="0.9" height="1.5" fill="#8a8a8a"/>
<rect x="330.25" y="703.25" width="0.9" height="3" fill="#8a8a8a"/>
<rect x="399.05" y="700.75" width="0.9" height="5.5" fill="#a8a8a8"/>
<rect x="401.75" y="703.75" width="0.9" height="2.5" fill="#8a8a8a"/>
<rect x="420.15" y="703.25" width="0.9" height="3" fill="#8a8a8a"/>
<rect x="382.95" y="704.75" width="0.9" height="1.5" fill="#8a8a8a"/>
<rect x="239.55" y="705.25" width="0.9" height="1" fill="#8a8a8a"/>
<rect x="106.05" y="705.65" width="0.9" height="0.6" fill="#8a8a8a"/>
<rect x="71.7" y="714.7" width="362" height="1.2" fill="#bfe3e8"/>
<text x="72.2" y="710.3" font-size="3.6" fill="#555" textLength="11.6" lengthAdjust="spacingAndGlyphs">[0-100]</text>
<rect x="86.95" y="712.52" width="0.9" height="2.33" fill="#86c8cf"/>
<rect x="90.85" y="713.89" width="0.9" height="0.96" fill="#86c8cf"/>
<rect x="96.95" y="713.67" width="0.9" height="1.18" fill="#86c8cf"/>
<rect x="106.05" y="713.96" width="0.9" height="0.89" fill="#86c8cf"/>
<rect x="110.45" y="713.98" width="0.9" height="0.87" fill="#86c8cf"/>
<rect x="120.25" y="711.96" width="0.9" height="2.89" fill="#86c8cf"/>
<rect x="130.75" y="714.26" width="0.9" height="0.59" fill="#86c8cf"/>
<rect x="139.85" y="713.99" width="0.9" height="0.86" fill="#86c8cf"/>
<rect x="143.35" y="712.84" width="0.9" height="2.01" fill="#86c8cf"/>
<rect x="152.05" y="713.84" width="0.9" height="1.01" fill="#86c8cf"/>
<rect x="154.05" y="714.26" width="0.9" height="0.59" fill="#86c8cf"/>
<rect x="156.05" y="714.09" width="0.9" height="0.76" fill="#86c8cf"/>
<rect x="158.05" y="713.64" width="0.9" height="1.21" fill="#86c8cf"/>
<rect x="160.05" y="713.54" width="0.9" height="1.31" fill="#86c8cf"/>
<rect x="162.05" y="714.22" width="0.9" height="0.63" fill="#86c8cf"/>
<rect x="164.55" y="713.74" width="0.9" height="1.11" fill="#86c8cf"/>
<rect x="166.55" y="713.92" width="0.9" height="0.93" fill="#86c8cf"/>
<rect x="174.05" y="713.73" width="0.9" height="1.12" fill="#86c8cf"/>
<rect x="176.55" y="714.18" width="0.9" height="0.67" fill="#86c8cf"/>
<rect x="185.25" y="712.38" width="0.9" height="2.47" fill="#86c8cf"/>
<rect x="190.95" y="709.17" width="0.9" height="5.68" fill="#86c8cf"/>
<rect x="196.55" y="713.91" width="0.9" height="0.94" fill="#86c8cf"/>
<rect x="205.55" y="713.78" width="0.9" height="1.07" fill="#86c8cf"/>
<rect x="207.55" y="713.94" width="0.9" height="0.91" fill="#86c8cf"/>
<rect x="209.55" y="714.05" width="0.9" height="0.8" fill="#86c8cf"/>
<rect x="211.55" y="713.92" width="0.9" height="0.93" fill="#86c8cf"/>
<rect x="213.55" y="714.11" width="0.9" height="0.74" fill="#86c8cf"/>
<rect x="217.55" y="713.81" width="0.9" height="1.04" fill="#86c8cf"/>
<rect x="219.55" y="714.02" width="0.9" height="0.83" fill="#86c8cf"/>
<rect x="221.55" y="713.73" width="0.9" height="1.12" fill="#86c8cf"/>
<rect x="223.55" y="713.92" width="0.9" height="0.93" fill="#86c8cf"/>
<rect x="234.55" y="713.88" width="0.9" height="0.97" fill="#86c8cf"/>
<rect x="236.55" y="712.1" width="0.9" height="2.75" fill="#86c8cf"/>
<rect x="240.55" y="714.11" width="0.9" height="0.74" fill="#86c8cf"/>
<rect x="242.55" y="713.38" width="0.9" height="1.47" fill="#86c8cf"/>
<rect x="244.55" y="714.01" width="0.9" height="0.84" fill="#86c8cf"/>
<rect x="249.75" y="713.41" width="0.9" height="1.44" fill="#86c8cf"/>
<rect x="251.65" y="713.34" width="0.9" height="1.51" fill="#86c8cf"/>
<rect x="253.55" y="713.93" width="0.9" height="0.92" fill="#86c8cf"/>
<rect x="255.55" y="714.06" width="0.9" height="0.79" fill="#86c8cf"/>
<rect x="277.25" y="710.73" width="0.9" height="4.12" fill="#86c8cf"/>
<rect x="279.15" y="713.48" width="0.9" height="1.37" fill="#86c8cf"/>
<rect x="289.55" y="713.31" width="0.9" height="1.54" fill="#86c8cf"/>
<rect x="292.45" y="713.03" width="0.9" height="1.82" fill="#86c8cf"/>
<rect x="294.35" y="713.8" width="0.9" height="1.05" fill="#86c8cf"/>
<rect x="296.25" y="713.28" width="0.9" height="1.57" fill="#86c8cf"/>
<rect x="303.85" y="713.23" width="0.9" height="1.62" fill="#86c8cf"/>
<rect x="305.75" y="713.77" width="0.9" height="1.08" fill="#86c8cf"/>
<rect x="316.95" y="712.38" width="0.9" height="2.47" fill="#86c8cf"/>
<rect x="318.95" y="713.49" width="0.9" height="1.36" fill="#86c8cf"/>
<rect x="323.05" y="712" width="0.9" height="2.85" fill="#86c8cf"/>
<rect x="325.05" y="714.07" width="0.9" height="0.78" fill="#86c8cf"/>
<rect x="328.15" y="714.15" width="0.9" height="0.7" fill="#86c8cf"/>
<rect x="339.45" y="712.97" width="0.9" height="1.88" fill="#86c8cf"/>
<rect x="340.45" y="712.84" width="0.9" height="2.01" fill="#86c8cf"/>
<rect x="344.55" y="711.68" width="0.9" height="3.17" fill="#86c8cf"/>
<rect x="347.55" y="713.05" width="0.9" height="1.8" fill="#86c8cf"/>
<rect x="350.65" y="713.42" width="0.9" height="1.43" fill="#86c8cf"/>
<rect x="372.15" y="713.34" width="0.9" height="1.51" fill="#86c8cf"/>
<rect x="375.15" y="713.51" width="0.9" height="1.34" fill="#86c8cf"/>
<rect x="382.95" y="712.97" width="0.9" height="1.88" fill="#86c8cf"/>
<rect x="391.55" y="714.2" width="0.9" height="0.65" fill="#86c8cf"/>
<rect x="401.75" y="713.16" width="0.9" height="1.69" fill="#86c8cf"/>
<rect x="420.15" y="713.72" width="0.9" height="1.13" fill="#86c8cf"/>
<rect x="71.7" y="722.9" width="362" height="1.2" fill="#bfe3e8"/>
<text x="72.2" y="718.5" font-size="3.6" fill="#555" textLength="11.6" lengthAdjust="spacingAndGlyphs">[0-100]</text>
<rect x="86.95" y="720.24" width="0.9" height="2.81" fill="#86c8cf"/>
<rect x="90.85" y="721.81" width="0.9" height="1.24" fill="#86c8cf"/>
<rect x="96.95" y="721.73" width="0.9" height="1.32" fill="#86c8cf"/>
<rect x="106.05" y="721.37" width="0.9" height="1.68" fill="#86c8cf"/>
<rect x="110.45" y="722.21" width="0.9" height="0.84" fill="#86c8cf"/>
<rect x="120.25" y="719.49" width="0.9" height="3.56" fill="#86c8cf"/>
<rect x="130.75" y="722.46" width="0.9" height="0.59" fill="#86c8cf"/>
<rect x="139.85" y="722.08" width="0.9" height="0.97" fill="#86c8cf"/>
<rect x="143.35" y="719.76" width="0.9" height="3.29" fill="#86c8cf"/>
<rect x="152.05" y="721.62" width="0.9" height="1.43" fill="#86c8cf"/>
<rect x="154.05" y="722.01" width="0.9" height="1.04" fill="#86c8cf"/>
<rect x="156.05" y="722.15" width="0.9" height="0.9" fill="#86c8cf"/>
<rect x="158.05" y="721.88" width="0.9" height="1.17" fill="#86c8cf"/>
<rect x="160.05" y="721.86" width="0.9" height="1.19" fill="#86c8cf"/>
<rect x="162.05" y="722.48" width="0.9" height="0.57" fill="#86c8cf"/>
<rect x="164.55" y="721.7" width="0.9" height="1.35" fill="#86c8cf"/>
<rect x="166.55" y="722.4" width="0.9" height="0.65" fill="#86c8cf"/>
<rect x="174.05" y="722.43" width="0.9" height="0.62" fill="#86c8cf"/>
<rect x="185.25" y="719.89" width="0.9" height="3.16" fill="#86c8cf"/>
<rect x="190.95" y="719.9" width="0.9" height="3.15" fill="#86c8cf"/>
<rect x="196.55" y="721.91" width="0.9" height="1.14" fill="#86c8cf"/>
<rect x="205.55" y="722.26" width="0.9" height="0.79" fill="#86c8cf"/>
<rect x="207.55" y="721.71" width="0.9" height="1.34" fill="#86c8cf"/>
<rect x="209.55" y="722.3" width="0.9" height="0.75" fill="#86c8cf"/>
<rect x="211.55" y="721.82" width="0.9" height="1.23" fill="#86c8cf"/>
<rect x="213.55" y="722.17" width="0.9" height="0.88" fill="#86c8cf"/>
<rect x="217.55" y="721.97" width="0.9" height="1.08" fill="#86c8cf"/>
<rect x="219.55" y="721.75" width="0.9" height="1.3" fill="#86c8cf"/>
<rect x="221.55" y="721.71" width="0.9" height="1.34" fill="#86c8cf"/>
<rect x="223.55" y="722.33" width="0.9" height="0.72" fill="#86c8cf"/>
<rect x="234.55" y="722.05" width="0.9" height="1" fill="#86c8cf"/>
<rect x="236.55" y="720.65" width="0.9" height="2.4" fill="#86c8cf"/>
<rect x="240.55" y="721.7" width="0.9" height="1.35" fill="#86c8cf"/>
<rect x="242.55" y="720.24" width="0.9" height="2.81" fill="#86c8cf"/>
<rect x="244.55" y="722.25" width="0.9" height="0.8" fill="#86c8cf"/>
<rect x="249.75" y="722.06" width="0.9" height="0.99" fill="#86c8cf"/>
<rect x="251.65" y="721.75" width="0.9" height="1.3" fill="#86c8cf"/>
<rect x="253.55" y="722.19" width="0.9" height="0.86" fill="#86c8cf"/>
<rect x="255.55" y="722.31" width="0.9" height="0.74" fill="#86c8cf"/>
<rect x="277.25" y="718.53" width="0.9" height="4.52" fill="#86c8cf"/>
<rect x="279.15" y="721.72" width="0.9" height="1.33" fill="#86c8cf"/>
<rect x="289.55" y="722.22" width="0.9" height="0.83" fill="#86c8cf"/>
<rect x="292.45" y="721.55" width="0.9" height="1.5" fill="#86c8cf"/>
<rect x="294.35" y="721.89" width="0.9" height="1.16" fill="#86c8cf"/>
<rect x="296.25" y="721.49" width="0.9" height="1.56" fill="#86c8cf"/>
<rect x="303.85" y="720.95" width="0.9" height="2.1" fill="#86c8cf"/>
<rect x="305.75" y="722.09" width="0.9" height="0.96" fill="#86c8cf"/>
<rect x="316.95" y="720.9" width="0.9" height="2.15" fill="#86c8cf"/>
<rect x="318.95" y="721.32" width="0.9" height="1.73" fill="#86c8cf"/>
<rect x="323.05" y="720.66" width="0.9" height="2.39" fill="#86c8cf"/>
<rect x="325.05" y="722.32" width="0.9" height="0.73" fill="#86c8cf"/>
<rect x="328.15" y="722.1" width="0.9" height="0.95" fill="#86c8cf"/>
<rect x="339.45" y="721.14" width="0.9" height="1.91" fill="#86c8cf"/>
<rect x="340.45" y="719.69" width="0.9" height="3.36" fill="#86c8cf"/>
<rect x="344.55" y="719.19" width="0.9" height="3.86" fill="#86c8cf"/>
<rect x="347.55" y="720.59" width="0.9" height="2.46" fill="#86c8cf"/>
<rect x="350.65" y="721.86" width="0.9" height="1.19" fill="#86c8cf"/>
<rect x="372.15" y="722.13" width="0.9" height="0.92" fill="#86c8cf"/>
<rect x="375.15" y="721.65" width="0.9" height="1.4" fill="#86c8cf"/>
<rect x="382.95" y="722.02" width="0.9" height="1.03" fill="#86c8cf"/>
<rect x="391.55" y="722.53" width="0.9" height="0.52" fill="#86c8cf"/>
<rect x="401.75" y="721.87" width="0.9" height="1.18" fill="#86c8cf"/>
<rect x="420.15" y="722.24" width="0.9" height="0.81" fill="#86c8cf"/>
<rect x="71.7" y="731.6" width="362" height="1.2" fill="#bfe3e8"/>
<text x="72.2" y="727.2" font-size="3.6" fill="#555" textLength="11.6" lengthAdjust="spacingAndGlyphs">[0-100]</text>
<rect x="86.95" y="729.39" width="0.9" height="2.36" fill="#86c8cf"/>
<rect x="90.85" y="730.87" width="0.9" height="0.88" fill="#86c8cf"/>
<rect x="96.95" y="731.06" width="0.9" height="0.69" fill="#86c8cf"/>
<rect x="106.05" y="730.79" width="0.9" height="0.96" fill="#86c8cf"/>
<rect x="110.45" y="731.14" width="0.9" height="0.61" fill="#86c8cf"/>
<rect x="120.25" y="728.86" width="0.9" height="2.89" fill="#86c8cf"/>
<rect x="130.75" y="731.18" width="0.9" height="0.57" fill="#86c8cf"/>
<rect x="139.85" y="730.68" width="0.9" height="1.07" fill="#86c8cf"/>
<rect x="143.35" y="728.53" width="0.9" height="3.22" fill="#86c8cf"/>
<rect x="152.05" y="730.95" width="0.9" height="0.8" fill="#86c8cf"/>
<rect x="154.05" y="731.05" width="0.9" height="0.7" fill="#86c8cf"/>
<rect x="156.05" y="730.8" width="0.9" height="0.95" fill="#86c8cf"/>
<rect x="158.05" y="730.6" width="0.9" height="1.15" fill="#86c8cf"/>
<rect x="160.05" y="730.97" width="0.9" height="0.78" fill="#86c8cf"/>
<rect x="162.05" y="730.69" width="0.9" height="1.06" fill="#86c8cf"/>
<rect x="164.55" y="729.89" width="0.9" height="1.86" fill="#86c8cf"/>
<rect x="166.55" y="730.92" width="0.9" height="0.83" fill="#86c8cf"/>
<rect x="174.05" y="730.91" width="0.9" height="0.84" fill="#86c8cf"/>
<rect x="185.25" y="729.83" width="0.9" height="1.92" fill="#86c8cf"/>
<rect x="190.95" y="727.97" width="0.9" height="3.78" fill="#86c8cf"/>
<rect x="196.55" y="730.6" width="0.9" height="1.15" fill="#86c8cf"/>
<rect x="205.55" y="730.7" width="0.9" height="1.05" fill="#86c8cf"/>
<rect x="207.55" y="730.94" width="0.9" height="0.81" fill="#86c8cf"/>
<rect x="209.55" y="731.04" width="0.9" height="0.71" fill="#86c8cf"/>
<rect x="211.55" y="730.07" width="0.9" height="1.68" fill="#86c8cf"/>
<rect x="213.55" y="730.88" width="0.9" height="0.87" fill="#86c8cf"/>
<rect x="217.55" y="731.11" width="0.9" height="0.64" fill="#86c8cf"/>
<rect x="219.55" y="730.65" width="0.9" height="1.1" fill="#86c8cf"/>
<rect x="221.55" y="731.04" width="0.9" height="0.71" fill="#86c8cf"/>
<rect x="223.55" y="730.88" width="0.9" height="0.87" fill="#86c8cf"/>
<rect x="234.55" y="730.33" width="0.9" height="1.42" fill="#86c8cf"/>
<rect x="236.55" y="728.41" width="0.9" height="3.34" fill="#86c8cf"/>
<rect x="240.55" y="730.54" width="0.9" height="1.21" fill="#86c8cf"/>
<rect x="242.55" y="729.98" width="0.9" height="1.77" fill="#86c8cf"/>
<rect x="244.55" y="730.79" width="0.9" height="0.96" fill="#86c8cf"/>
<rect x="249.75" y="730.77" width="0.9" height="0.98" fill="#86c8cf"/>
<rect x="251.65" y="729.85" width="0.9" height="1.9" fill="#86c8cf"/>
<rect x="253.55" y="730.66" width="0.9" height="1.09" fill="#86c8cf"/>
<rect x="255.55" y="730.86" width="0.9" height="0.89" fill="#86c8cf"/>
<rect x="277.25" y="728" width="0.9" height="3.75" fill="#86c8cf"/>
<rect x="279.15" y="730.46" width="0.9" height="1.29" fill="#86c8cf"/>
<rect x="289.55" y="730.19" width="0.9" height="1.56" fill="#86c8cf"/>
<rect x="292.45" y="729.61" width="0.9" height="2.14" fill="#86c8cf"/>
<rect x="294.35" y="730.16" width="0.9" height="1.59" fill="#86c8cf"/>
<rect x="296.25" y="729.94" width="0.9" height="1.81" fill="#86c8cf"/>
<rect x="303.85" y="729.8" width="0.9" height="1.95" fill="#86c8cf"/>
<rect x="305.75" y="730.76" width="0.9" height="0.99" fill="#86c8cf"/>
<rect x="316.95" y="730.03" width="0.9" height="1.72" fill="#86c8cf"/>
<rect x="318.95" y="730.13" width="0.9" height="1.62" fill="#86c8cf"/>
<rect x="323.05" y="729.84" width="0.9" height="1.91" fill="#86c8cf"/>
<rect x="325.05" y="731.04" width="0.9" height="0.71" fill="#86c8cf"/>
<rect x="339.45" y="730.4" width="0.9" height="1.35" fill="#86c8cf"/>
<rect x="340.45" y="729.54" width="0.9" height="2.21" fill="#86c8cf"/>
<rect x="344.55" y="728.13" width="0.9" height="3.62" fill="#86c8cf"/>
<rect x="347.55" y="728.24" width="0.9" height="3.51" fill="#86c8cf"/>
<rect x="350.65" y="730.52" width="0.9" height="1.23" fill="#86c8cf"/>
<rect x="372.15" y="730.08" width="0.9" height="1.67" fill="#86c8cf"/>
<rect x="375.15" y="730.04" width="0.9" height="1.71" fill="#86c8cf"/>
<rect x="382.95" y="729.78" width="0.9" height="1.97" fill="#86c8cf"/>
<rect x="391.55" y="731.08" width="0.9" height="0.67" fill="#86c8cf"/>
<rect x="401.75" y="730.55" width="0.9" height="1.2" fill="#86c8cf"/>
<rect x="420.15" y="730.89" width="0.9" height="0.86" fill="#86c8cf"/>
<rect x="71.7" y="739.9" width="362" height="1.2" fill="#8ccbe4"/>
<text x="72.2" y="735.5" font-size="3.6" fill="#555" textLength="11.6" lengthAdjust="spacingAndGlyphs">[0-100]</text>
<rect x="86.95" y="737.32" width="0.9" height="2.73" fill="#3aa3cf"/>
<rect x="90.85" y="738.73" width="0.9" height="1.32" fill="#3aa3cf"/>
<rect x="96.95" y="738.54" width="0.9" height="1.51" fill="#3aa3cf"/>
<rect x="106.05" y="737.92" width="0.9" height="2.13" fill="#3aa3cf"/>
<rect x="110.45" y="738.67" width="0.9" height="1.38" fill="#3aa3cf"/>
<rect x="120.25" y="735.95" width="0.9" height="4.1" fill="#3aa3cf"/>
<rect x="130.75" y="738.82" width="0.9" height="1.23" fill="#3aa3cf"/>
<rect x="139.85" y="738.71" width="0.9" height="1.34" fill="#3aa3cf"/>
<rect x="143.35" y="737.3" width="0.9" height="2.75" fill="#3aa3cf"/>
<rect x="152.05" y="738.51" width="0.9" height="1.54" fill="#3aa3cf"/>
<rect x="154.05" y="738.62" width="0.9" height="1.43" fill="#3aa3cf"/>
<rect x="156.05" y="738.39" width="0.9" height="1.66" fill="#3aa3cf"/>
<rect x="158.05" y="738.09" width="0.9" height="1.96" fill="#3aa3cf"/>
<rect x="160.05" y="738.68" width="0.9" height="1.37" fill="#3aa3cf"/>
<rect x="162.05" y="739.19" width="0.9" height="0.86" fill="#3aa3cf"/>
<rect x="164.55" y="737.88" width="0.9" height="2.17" fill="#3aa3cf"/>
<rect x="166.55" y="739.07" width="0.9" height="0.98" fill="#3aa3cf"/>
<rect x="174.05" y="738.71" width="0.9" height="1.34" fill="#3aa3cf"/>
<rect x="176.55" y="738.94" width="0.9" height="1.11" fill="#3aa3cf"/>
<rect x="185.25" y="736.84" width="0.9" height="3.21" fill="#3aa3cf"/>
<rect x="190.95" y="734.88" width="0.9" height="5.17" fill="#3aa3cf"/>
<rect x="196.55" y="737.68" width="0.9" height="2.37" fill="#3aa3cf"/>
<rect x="205.55" y="738.76" width="0.9" height="1.29" fill="#3aa3cf"/>
<rect x="207.55" y="738.98" width="0.9" height="1.07" fill="#3aa3cf"/>
<rect x="209.55" y="739.03" width="0.9" height="1.02" fill="#3aa3cf"/>
<rect x="211.55" y="738.79" width="0.9" height="1.26" fill="#3aa3cf"/>
<rect x="213.55" y="738.62" width="0.9" height="1.43" fill="#3aa3cf"/>
<rect x="217.55" y="738.7" width="0.9" height="1.35" fill="#3aa3cf"/>
<rect x="219.55" y="739.01" width="0.9" height="1.04" fill="#3aa3cf"/>
<rect x="221.55" y="738.34" width="0.9" height="1.71" fill="#3aa3cf"/>
<rect x="223.55" y="738.57" width="0.9" height="1.48" fill="#3aa3cf"/>
<rect x="234.55" y="738.51" width="0.9" height="1.54" fill="#3aa3cf"/>
<rect x="236.55" y="736.95" width="0.9" height="3.1" fill="#3aa3cf"/>
<rect x="240.55" y="738.62" width="0.9" height="1.43" fill="#3aa3cf"/>
<rect x="242.55" y="737.99" width="0.9" height="2.06" fill="#3aa3cf"/>
<rect x="244.55" y="739.14" width="0.9" height="0.91" fill="#3aa3cf"/>
<rect x="249.75" y="737.83" width="0.9" height="2.22" fill="#3aa3cf"/>
<rect x="251.65" y="737.75" width="0.9" height="2.3" fill="#3aa3cf"/>
<rect x="253.55" y="738.64" width="0.9" height="1.41" fill="#3aa3cf"/>
<rect x="255.55" y="738.78" width="0.9" height="1.27" fill="#3aa3cf"/>
<rect x="277.25" y="734.76" width="0.9" height="5.29" fill="#3aa3cf"/>
<rect x="279.15" y="737.43" width="0.9" height="2.62" fill="#3aa3cf"/>
<rect x="289.55" y="738" width="0.9" height="2.05" fill="#3aa3cf"/>
<rect x="292.45" y="738.39" width="0.9" height="1.66" fill="#3aa3cf"/>
<rect x="294.35" y="738.68" width="0.9" height="1.37" fill="#3aa3cf"/>
<rect x="296.25" y="738.39" width="0.9" height="1.66" fill="#3aa3cf"/>
<rect x="303.85" y="738.35" width="0.9" height="1.7" fill="#3aa3cf"/>
<rect x="305.75" y="738.87" width="0.9" height="1.18" fill="#3aa3cf"/>
<rect x="316.95" y="737.74" width="0.9" height="2.31" fill="#3aa3cf"/>
<rect x="318.95" y="738.09" width="0.9" height="1.96" fill="#3aa3cf"/>
<rect x="323.05" y="737.99" width="0.9" height="2.06" fill="#3aa3cf"/>
<rect x="325.05" y="738.26" width="0.9" height="1.79" fill="#3aa3cf"/>
<rect x="328.15" y="739.18" width="0.9" height="0.87" fill="#3aa3cf"/>
<rect x="339.45" y="738.03" width="0.9" height="2.02" fill="#3aa3cf"/>
<rect x="340.45" y="736.38" width="0.9" height="3.67" fill="#3aa3cf"/>
<rect x="344.55" y="734.7" width="0.9" height="5.35" fill="#3aa3cf"/>
<rect x="347.55" y="736.77" width="0.9" height="3.28" fill="#3aa3cf"/>
<rect x="350.65" y="737.9" width="0.9" height="2.15" fill="#3aa3cf"/>
<rect x="372.15" y="738.38" width="0.9" height="1.67" fill="#3aa3cf"/>
<rect x="375.15" y="738.35" width="0.9" height="1.7" fill="#3aa3cf"/>
<rect x="382.95" y="738.08" width="0.9" height="1.97" fill="#3aa3cf"/>
<rect x="391.55" y="739.41" width="0.9" height="0.64" fill="#3aa3cf"/>
<rect x="401.75" y="738.19" width="0.9" height="1.86" fill="#3aa3cf"/>
<rect x="420.15" y="738.97" width="0.9" height="1.08" fill="#3aa3cf"/>
<rect x="91.35" y="734.55" width="0.9" height="5.5" fill="#3aa3cf"/>
<rect x="119.05" y="734.55" width="0.9" height="5.5" fill="#9dd3e6"/>
<rect x="120.05" y="735.05" width="0.9" height="5" fill="#9dd3e6"/>
<rect x="120.85" y="736.05" width="0.9" height="4" fill="#3aa3cf"/>
<rect x="71.7" y="748.5" width="362" height="1.2" fill="#8ccbe4"/>
<text x="72.2" y="744.1" font-size="3.6" fill="#555" textLength="11.6" lengthAdjust="spacingAndGlyphs">[0-100]</text>
<rect x="86.95" y="746.39" width="0.9" height="2.26" fill="#3aa3cf"/>
<rect x="90.85" y="746.63" width="0.9" height="2.02" fill="#3aa3cf"/>
<rect x="96.95" y="747.58" width="0.9" height="1.07" fill="#3aa3cf"/>
<rect x="106.05" y="747.02" width="0.9" height="1.63" fill="#3aa3cf"/>
<rect x="110.45" y="747.36" width="0.9" height="1.29" fill="#3aa3cf"/>
<rect x="120.25" y="744.32" width="0.9" height="4.33" fill="#3aa3cf"/>
<rect x="130.75" y="747.68" width="0.9" height="0.97" fill="#3aa3cf"/>
<rect x="139.85" y="747.53" width="0.9" height="1.12" fill="#3aa3cf"/>
<rect x="143.35" y="744.61" width="0.9" height="4.04" fill="#3aa3cf"/>
<rect x="152.05" y="746.99" width="0.9" height="1.66" fill="#3aa3cf"/>
<rect x="154.05" y="747.85" width="0.9" height="0.8" fill="#3aa3cf"/>
<rect x="156.05" y="747.2" width="0.9" height="1.45" fill="#3aa3cf"/>
<rect x="158.05" y="747.28" width="0.9" height="1.37" fill="#3aa3cf"/>
<rect x="160.05" y="747.48" width="0.9" height="1.17" fill="#3aa3cf"/>
<rect x="162.05" y="747.33" width="0.9" height="1.32" fill="#3aa3cf"/>
<rect x="164.55" y="746.84" width="0.9" height="1.81" fill="#3aa3cf"/>
<rect x="166.55" y="747.49" width="0.9" height="1.16" fill="#3aa3cf"/>
<rect x="174.05" y="747.34" width="0.9" height="1.31" fill="#3aa3cf"/>
<rect x="176.55" y="747.58" width="0.9" height="1.07" fill="#3aa3cf"/>
<rect x="185.25" y="745.32" width="0.9" height="3.33" fill="#3aa3cf"/>
<rect x="190.95" y="742.66" width="0.9" height="5.99" fill="#3aa3cf"/>
<rect x="196.55" y="746.84" width="0.9" height="1.81" fill="#3aa3cf"/>
<rect x="205.55" y="747.53" width="0.9" height="1.12" fill="#3aa3cf"/>
<rect x="207.55" y="747.07" width="0.9" height="1.58" fill="#3aa3cf"/>
<rect x="209.55" y="747.31" width="0.9" height="1.34" fill="#3aa3cf"/>
<rect x="211.55" y="746.95" width="0.9" height="1.7" fill="#3aa3cf"/>
<rect x="213.55" y="747.56" width="0.9" height="1.09" fill="#3aa3cf"/>
<rect x="217.55" y="747.2" width="0.9" height="1.45" fill="#3aa3cf"/>
<rect x="219.55" y="747.07" width="0.9" height="1.58" fill="#3aa3cf"/>
<rect x="221.55" y="746.9" width="0.9" height="1.75" fill="#3aa3cf"/>
<rect x="223.55" y="747.2" width="0.9" height="1.45" fill="#3aa3cf"/>
<rect x="234.55" y="747.5" width="0.9" height="1.15" fill="#3aa3cf"/>
<rect x="236.55" y="745.04" width="0.9" height="3.61" fill="#3aa3cf"/>
<rect x="240.55" y="746.83" width="0.9" height="1.82" fill="#3aa3cf"/>
<rect x="242.55" y="745.21" width="0.9" height="3.44" fill="#3aa3cf"/>
<rect x="244.55" y="747.62" width="0.9" height="1.03" fill="#3aa3cf"/>
<rect x="249.75" y="747.43" width="0.9" height="1.22" fill="#3aa3cf"/>
<rect x="251.65" y="746.65" width="0.9" height="2" fill="#3aa3cf"/>
<rect x="253.55" y="747.68" width="0.9" height="0.97" fill="#3aa3cf"/>
<rect x="255.55" y="747.86" width="0.9" height="0.79" fill="#3aa3cf"/>
<rect x="277.25" y="744.76" width="0.9" height="3.89" fill="#3aa3cf"/>
<rect x="279.15" y="746.32" width="0.9" height="2.33" fill="#3aa3cf"/>
<rect x="289.55" y="746.65" width="0.9" height="2" fill="#3aa3cf"/>
<rect x="292.45" y="745.99" width="0.9" height="2.66" fill="#3aa3cf"/>
<rect x="294.35" y="747.39" width="0.9" height="1.26" fill="#3aa3cf"/>
<rect x="296.25" y="746.41" width="0.9" height="2.24" fill="#3aa3cf"/>
<rect x="303.85" y="746.33" width="0.9" height="2.32" fill="#3aa3cf"/>
<rect x="305.75" y="747.82" width="0.9" height="0.83" fill="#3aa3cf"/>
<rect x="316.95" y="745.13" width="0.9" height="3.52" fill="#3aa3cf"/>
<rect x="318.95" y="745.88" width="0.9" height="2.77" fill="#3aa3cf"/>
<rect x="323.05" y="746.42" width="0.9" height="2.23" fill="#3aa3cf"/>
<rect x="325.05" y="746.82" width="0.9" height="1.83" fill="#3aa3cf"/>
<rect x="328.15" y="747.75" width="0.9" height="0.9" fill="#3aa3cf"/>
<rect x="339.45" y="746.59" width="0.9" height="2.06" fill="#3aa3cf"/>
<rect x="340.45" y="743.99" width="0.9" height="4.66" fill="#3aa3cf"/>
<rect x="344.55" y="743.52" width="0.9" height="5.13" fill="#3aa3cf"/>
<rect x="347.55" y="746.01" width="0.9" height="2.64" fill="#3aa3cf"/>
<rect x="350.65" y="747.07" width="0.9" height="1.58" fill="#3aa3cf"/>
<rect x="372.15" y="746.97" width="0.9" height="1.68" fill="#3aa3cf"/>
<rect x="375.15" y="747.17" width="0.9" height="1.48" fill="#3aa3cf"/>
<rect x="382.95" y="747.12" width="0.9" height="1.53" fill="#3aa3cf"/>
<rect x="391.55" y="747.8" width="0.9" height="0.85" fill="#3aa3cf"/>
<rect x="401.75" y="746.4" width="0.9" height="2.25" fill="#3aa3cf"/>
<rect x="420.15" y="747.73" width="0.9" height="0.92" fill="#3aa3cf"/>
<rect x="143.35" y="743.65" width="0.9" height="5" fill="#8fd0e6"/>
<rect x="71.7" y="756.8" width="362" height="1.2" fill="#8ccbe4"/>
<text x="72.2" y="752.4" font-size="3.6" fill="#555" textLength="11.6" lengthAdjust="spacingAndGlyphs">[0-100]</text>
<rect x="86.95" y="753.35" width="0.9" height="3.6" fill="#3aa3cf"/>
<rect x="90.85" y="755.35" width="0.9" height="1.6" fill="#3aa3cf"/>
<rect x="96.95" y="756.03" width="0.9" height="0.92" fill="#3aa3cf"/>
<rect x="106.05" y="755.48" width="0.9" height="1.47" fill="#3aa3cf"/>
<rect x="110.45" y="755.74" width="0.9" height="1.21" fill="#3aa3cf"/>
<rect x="120.25" y="752.75" width="0.9" height="4.2" fill="#3aa3cf"/>
<rect x="130.75" y="756.18" width="0.9" height="0.77" fill="#3aa3cf"/>
<rect x="139.85" y="755.46" width="0.9" height="1.49" fill="#3aa3cf"/>
<rect x="143.35" y="752.28" width="0.9" height="4.67" fill="#3aa3cf"/>
<rect x="152.05" y="755.1" width="0.9" height="1.85" fill="#3aa3cf"/>
<rect x="154.05" y="756.15" width="0.9" height="0.8" fill="#3aa3cf"/>
<rect x="156.05" y="755.79" width="0.9" height="1.16" fill="#3aa3cf"/>
<rect x="158.05" y="755.82" width="0.9" height="1.13" fill="#3aa3cf"/>
<rect x="160.05" y="755.29" width="0.9" height="1.66" fill="#3aa3cf"/>
<rect x="162.05" y="756.02" width="0.9" height="0.93" fill="#3aa3cf"/>
<rect x="164.55" y="755.62" width="0.9" height="1.33" fill="#3aa3cf"/>
<rect x="166.55" y="755.9" width="0.9" height="1.05" fill="#3aa3cf"/>
<rect x="174.05" y="755.52" width="0.9" height="1.43" fill="#3aa3cf"/>
<rect x="176.55" y="755.93" width="0.9" height="1.02" fill="#3aa3cf"/>
<rect x="185.25" y="754.07" width="0.9" height="2.88" fill="#3aa3cf"/>
<rect x="190.95" y="752.77" width="0.9" height="4.18" fill="#3aa3cf"/>
<rect x="196.55" y="754.61" width="0.9" height="2.34" fill="#3aa3cf"/>
<rect x="205.55" y="755.78" width="0.9" height="1.17" fill="#3aa3cf"/>
<rect x="207.55" y="755.37" width="0.9" height="1.58" fill="#3aa3cf"/>
<rect x="209.55" y="755.96" width="0.9" height="0.99" fill="#3aa3cf"/>
<rect x="211.55" y="755.8" width="0.9" height="1.15" fill="#3aa3cf"/>
<rect x="213.55" y="755.69" width="0.9" height="1.26" fill="#3aa3cf"/>
<rect x="217.55" y="755.9" width="0.9" height="1.05" fill="#3aa3cf"/>
<rect x="219.55" y="755.98" width="0.9" height="0.97" fill="#3aa3cf"/>
<rect x="221.55" y="755.14" width="0.9" height="1.81" fill="#3aa3cf"/>
<rect x="223.55" y="755.74" width="0.9" height="1.21" fill="#3aa3cf"/>
<rect x="234.55" y="755.27" width="0.9" height="1.68" fill="#3aa3cf"/>
<rect x="236.55" y="754.5" width="0.9" height="2.45" fill="#3aa3cf"/>
<rect x="240.55" y="755.22" width="0.9" height="1.73" fill="#3aa3cf"/>
<rect x="242.55" y="755.02" width="0.9" height="1.93" fill="#3aa3cf"/>
<rect x="244.55" y="755.21" width="0.9" height="1.74" fill="#3aa3cf"/>
<rect x="249.75" y="755.34" width="0.9" height="1.61" fill="#3aa3cf"/>
<rect x="251.65" y="755.1" width="0.9" height="1.85" fill="#3aa3cf"/>
<rect x="253.55" y="755.51" width="0.9" height="1.44" fill="#3aa3cf"/>
<rect x="255.55" y="755.69" width="0.9" height="1.26" fill="#3aa3cf"/>
<rect x="277.25" y="752.31" width="0.9" height="4.64" fill="#3aa3cf"/>
<rect x="279.15" y="755.41" width="0.9" height="1.54" fill="#3aa3cf"/>
<rect x="289.55" y="755.25" width="0.9" height="1.7" fill="#3aa3cf"/>
<rect x="292.45" y="755.25" width="0.9" height="1.7" fill="#3aa3cf"/>
<rect x="294.35" y="755.74" width="0.9" height="1.21" fill="#3aa3cf"/>
<rect x="296.25" y="755.47" width="0.9" height="1.48" fill="#3aa3cf"/>
<rect x="303.85" y="755.53" width="0.9" height="1.42" fill="#3aa3cf"/>
<rect x="305.75" y="756.07" width="0.9" height="0.88" fill="#3aa3cf"/>
<rect x="316.95" y="754.54" width="0.9" height="2.41" fill="#3aa3cf"/>
<rect x="318.95" y="755.15" width="0.9" height="1.8" fill="#3aa3cf"/>
<rect x="323.05" y="753.67" width="0.9" height="3.28" fill="#3aa3cf"/>
<rect x="325.05" y="755.77" width="0.9" height="1.18" fill="#3aa3cf"/>
<rect x="328.15" y="755.98" width="0.9" height="0.97" fill="#3aa3cf"/>
<rect x="339.45" y="755.34" width="0.9" height="1.61" fill="#3aa3cf"/>
<rect x="340.45" y="753.85" width="0.9" height="3.1" fill="#3aa3cf"/>
<rect x="344.55" y="754.2" width="0.9" height="2.75" fill="#3aa3cf"/>
<rect x="347.55" y="754.09" width="0.9" height="2.86" fill="#3aa3cf"/>
<rect x="350.65" y="755.85" width="0.9" height="1.1" fill="#3aa3cf"/>
<rect x="372.15" y="755.01" width="0.9" height="1.94" fill="#3aa3cf"/>
<rect x="375.15" y="755.23" width="0.9" height="1.72" fill="#3aa3cf"/>
<rect x="382.95" y="755.43" width="0.9" height="1.52" fill="#3aa3cf"/>
<rect x="391.55" y="756" width="0.9" height="0.95" fill="#3aa3cf"/>
<rect x="401.75" y="754.41" width="0.9" height="2.54" fill="#3aa3cf"/>
<rect x="420.15" y="755.95" width="0.9" height="1" fill="#3aa3cf"/>
<rect x="143.35" y="751.95" width="0.9" height="5" fill="#8fd0e6"/>
<rect x="71.7" y="765.5" width="362" height="1.2" fill="#99a6d2"/>
<text x="72.2" y="761.1" font-size="3.6" fill="#555" textLength="11.6" lengthAdjust="spacingAndGlyphs">[0-100]</text>
<rect x="86.95" y="760.84" width="0.9" height="4.81" fill="#23418c"/>
<rect x="90.85" y="763.85" width="0.9" height="1.8" fill="#23418c"/>
<rect x="96.95" y="764.08" width="0.9" height="1.57" fill="#23418c"/>
<rect x="106.05" y="763.32" width="0.9" height="2.33" fill="#23418c"/>
<rect x="110.45" y="764.49" width="0.9" height="1.16" fill="#23418c"/>
<rect x="120.25" y="760.91" width="0.9" height="4.74" fill="#23418c"/>
<rect x="130.75" y="764.23" width="0.9" height="1.42" fill="#23418c"/>
<rect x="139.85" y="763.97" width="0.9" height="1.68" fill="#23418c"/>
<rect x="143.35" y="761.73" width="0.9" height="3.92" fill="#23418c"/>
<rect x="152.05" y="763.71" width="0.9" height="1.94" fill="#23418c"/>
<rect x="154.05" y="764.21" width="0.9" height="1.44" fill="#23418c"/>
<rect x="156.05" y="763.93" width="0.9" height="1.72" fill="#23418c"/>
<rect x="158.05" y="763.89" width="0.9" height="1.76" fill="#23418c"/>
<rect x="160.05" y="764.25" width="0.9" height="1.4" fill="#23418c"/>
<rect x="162.05" y="764.79" width="0.9" height="0.86" fill="#23418c"/>
<rect x="164.55" y="764.14" width="0.9" height="1.51" fill="#23418c"/>
<rect x="166.55" y="764.77" width="0.9" height="0.88" fill="#23418c"/>
<rect x="174.05" y="764.18" width="0.9" height="1.47" fill="#23418c"/>
<rect x="176.55" y="764.87" width="0.9" height="0.78" fill="#23418c"/>
<rect x="185.25" y="762.65" width="0.9" height="3" fill="#23418c"/>
<rect x="190.95" y="761.2" width="0.9" height="4.45" fill="#23418c"/>
<rect x="196.55" y="763.12" width="0.9" height="2.53" fill="#23418c"/>
<rect x="205.55" y="764.06" width="0.9" height="1.59" fill="#23418c"/>
<rect x="207.55" y="763.89" width="0.9" height="1.76" fill="#23418c"/>
<rect x="209.55" y="764.32" width="0.9" height="1.33" fill="#23418c"/>
<rect x="211.55" y="764.1" width="0.9" height="1.55" fill="#23418c"/>
<rect x="213.55" y="764.57" width="0.9" height="1.08" fill="#23418c"/>
<rect x="217.55" y="764.43" width="0.9" height="1.22" fill="#23418c"/>
<rect x="219.55" y="764.46" width="0.9" height="1.19" fill="#23418c"/>
<rect x="221.55" y="764.14" width="0.9" height="1.51" fill="#23418c"/>
<rect x="223.55" y="764.6" width="0.9" height="1.05" fill="#23418c"/>
<rect x="234.55" y="763.57" width="0.9" height="2.08" fill="#23418c"/>
<rect x="236.55" y="760.41" width="0.9" height="5.24" fill="#23418c"/>
<rect x="240.55" y="764.03" width="0.9" height="1.62" fill="#23418c"/>
<rect x="242.55" y="763.07" width="0.9" height="2.58" fill="#23418c"/>
<rect x="244.55" y="763.56" width="0.9" height="2.09" fill="#23418c"/>
<rect x="249.75" y="764.02" width="0.9" height="1.63" fill="#23418c"/>
<rect x="251.65" y="763.53" width="0.9" height="2.12" fill="#23418c"/>
<rect x="253.55" y="764.63" width="0.9" height="1.02" fill="#23418c"/>
<rect x="255.55" y="764.64" width="0.9" height="1.01" fill="#23418c"/>
<rect x="277.25" y="759.47" width="0.9" height="6.18" fill="#23418c"/>
<rect x="279.15" y="763.29" width="0.9" height="2.36" fill="#23418c"/>
<rect x="289.55" y="764.16" width="0.9" height="1.49" fill="#23418c"/>
<rect x="292.45" y="763.28" width="0.9" height="2.37" fill="#23418c"/>
<rect x="294.35" y="764.42" width="0.9" height="1.23" fill="#23418c"/>
<rect x="296.25" y="763.81" width="0.9" height="1.84" fill="#23418c"/>
<rect x="303.85" y="763.97" width="0.9" height="1.68" fill="#23418c"/>
<rect x="305.75" y="764.48" width="0.9" height="1.17" fill="#23418c"/>
<rect x="316.95" y="763.52" width="0.9" height="2.13" fill="#23418c"/>
<rect x="318.95" y="764.08" width="0.9" height="1.57" fill="#23418c"/>
<rect x="323.05" y="762.94" width="0.9" height="2.71" fill="#23418c"/>
<rect x="325.05" y="764.37" width="0.9" height="1.28" fill="#23418c"/>
<rect x="328.15" y="764.48" width="0.9" height="1.17" fill="#23418c"/>
<rect x="339.45" y="763.24" width="0.9" height="2.41" fill="#23418c"/>
<rect x="340.45" y="761.03" width="0.9" height="4.62" fill="#23418c"/>
<rect x="344.55" y="760.41" width="0.9" height="5.24" fill="#23418c"/>
<rect x="347.55" y="761.12" width="0.9" height="4.53" fill="#23418c"/>
<rect x="350.65" y="763.26" width="0.9" height="2.39" fill="#23418c"/>
<rect x="372.15" y="763.91" width="0.9" height="1.74" fill="#23418c"/>
<rect x="375.15" y="763.99" width="0.9" height="1.66" fill="#23418c"/>
<rect x="382.95" y="762.7" width="0.9" height="2.95" fill="#23418c"/>
<rect x="391.55" y="764.82" width="0.9" height="0.83" fill="#23418c"/>
<rect x="401.75" y="763.1" width="0.9" height="2.55" fill="#23418c"/>
<rect x="420.15" y="763.92" width="0.9" height="1.73" fill="#23418c"/>
<rect x="71.7" y="773.8" width="362" height="1.2" fill="#99a6d2"/>
<text x="72.2" y="769.4" font-size="3.6" fill="#555" textLength="11.6" lengthAdjust="spacingAndGlyphs">[0-100]</text>
<rect x="86.95" y="771.28" width="0.9" height="2.67" fill="#23418c"/>
<rect x="90.85" y="771.62" width="0.9" height="2.33" fill="#23418c"/>
<rect x="96.95" y="771.94" width="0.9" height="2.01" fill="#23418c"/>
<rect x="106.05" y="771.89" width="0.9" height="2.06" fill="#23418c"/>
<rect x="110.45" y="772.49" width="0.9" height="1.46" fill="#23418c"/>
<rect x="120.25" y="768.2" width="0.9" height="5.75" fill="#23418c"/>
<rect x="130.75" y="773.01" width="0.9" height="0.94" fill="#23418c"/>
<rect x="139.85" y="772.67" width="0.9" height="1.28" fill="#23418c"/>
<rect x="143.35" y="769.53" width="0.9" height="4.42" fill="#23418c"/>
<rect x="152.05" y="772.01" width="0.9" height="1.94" fill="#23418c"/>
<rect x="154.05" y="772.42" width="0.9" height="1.53" fill="#23418c"/>
<rect x="156.05" y="772.02" width="0.9" height="1.93" fill="#23418c"/>
<rect x="158.05" y="771.95" width="0.9" height="2" fill="#23418c"/>
<rect x="160.05" y="771.94" width="0.9" height="2.01" fill="#23418c"/>
<rect x="162.05" y="772.53" width="0.9" height="1.42" fill="#23418c"/>
<rect x="164.55" y="771.63" width="0.9" height="2.32" fill="#23418c"/>
<rect x="166.55" y="772.93" width="0.9" height="1.02" fill="#23418c"/>
<rect x="174.05" y="773.11" width="0.9" height="0.84" fill="#23418c"/>
<rect x="176.55" y="773.25" width="0.9" height="0.7" fill="#23418c"/>
<rect x="185.25" y="770.4" width="0.9" height="3.55" fill="#23418c"/>
<rect x="190.95" y="769.41" width="0.9" height="4.54" fill="#23418c"/>
<rect x="196.55" y="771.42" width="0.9" height="2.53" fill="#23418c"/>
<rect x="205.55" y="772.64" width="0.9" height="1.31" fill="#23418c"/>
<rect x="207.55" y="772.24" width="0.9" height="1.71" fill="#23418c"/>
<rect x="209.55" y="772.24" width="0.9" height="1.71" fill="#23418c"/>
<rect x="211.55" y="771.82" width="0.9" height="2.13" fill="#23418c"/>
<rect x="213.55" y="772.7" width="0.9" height="1.25" fill="#23418c"/>
<rect x="217.55" y="773.13" width="0.9" height="0.82" fill="#23418c"/>
<rect x="219.55" y="772.05" width="0.9" height="1.9" fill="#23418c"/>
<rect x="221.55" y="772.1" width="0.9" height="1.85" fill="#23418c"/>
<rect x="223.55" y="772.69" width="0.9" height="1.26" fill="#23418c"/>
<rect x="234.55" y="772.34" width="0.9" height="1.61" fill="#23418c"/>
<rect x="236.55" y="769.58" width="0.9" height="4.37" fill="#23418c"/>
<rect x="240.55" y="772.86" width="0.9" height="1.09" fill="#23418c"/>
<rect x="242.55" y="770.28" width="0.9" height="3.67" fill="#23418c"/>
<rect x="244.55" y="772.65" width="0.9" height="1.3" fill="#23418c"/>
<rect x="249.75" y="772.63" width="0.9" height="1.32" fill="#23418c"/>
<rect x="251.65" y="771.98" width="0.9" height="1.97" fill="#23418c"/>
<rect x="253.55" y="772.12" width="0.9" height="1.83" fill="#23418c"/>
<rect x="255.55" y="773.08" width="0.9" height="0.87" fill="#23418c"/>
<rect x="277.25" y="767.45" width="0.9" height="6.5" fill="#23418c"/>
<rect x="279.15" y="770.8" width="0.9" height="3.15" fill="#23418c"/>
<rect x="289.55" y="772.07" width="0.9" height="1.88" fill="#23418c"/>
<rect x="292.45" y="771.79" width="0.9" height="2.16" fill="#23418c"/>
<rect x="294.35" y="772.09" width="0.9" height="1.86" fill="#23418c"/>
<rect x="296.25" y="771.46" width="0.9" height="2.49" fill="#23418c"/>
<rect x="303.85" y="771.15" width="0.9" height="2.8" fill="#23418c"/>
<rect x="305.75" y="772.59" width="0.9" height="1.36" fill="#23418c"/>
<rect x="316.95" y="770.49" width="0.9" height="3.46" fill="#23418c"/>
<rect x="318.95" y="772.29" width="0.9" height="1.66" fill="#23418c"/>
<rect x="323.05" y="771.58" width="0.9" height="2.37" fill="#23418c"/>
<rect x="325.05" y="772.65" width="0.9" height="1.3" fill="#23418c"/>
<rect x="328.15" y="772.66" width="0.9" height="1.29" fill="#23418c"/>
<rect x="339.45" y="771.92" width="0.9" height="2.03" fill="#23418c"/>
<rect x="340.45" y="769.83" width="0.9" height="4.12" fill="#23418c"/>
<rect x="344.55" y="770.85" width="0.9" height="3.1" fill="#23418c"/>
<rect x="347.55" y="771.23" width="0.9" height="2.72" fill="#23418c"/>
<rect x="350.65" y="772.37" width="0.9" height="1.58" fill="#23418c"/>
<rect x="372.15" y="771.83" width="0.9" height="2.12" fill="#23418c"/>
<rect x="375.15" y="771.81" width="0.9" height="2.14" fill="#23418c"/>
<rect x="382.95" y="771.48" width="0.9" height="2.47" fill="#23418c"/>
<rect x="391.55" y="773.01" width="0.9" height="0.94" fill="#23418c"/>
<rect x="401.75" y="771.72" width="0.9" height="2.23" fill="#23418c"/>
<rect x="420.15" y="772.42" width="0.9" height="1.53" fill="#23418c"/>
<rect x="83.85" y="768.95" width="0.9" height="5" fill="#23418c"/>
<rect x="265.55" y="770.45" width="0.9" height="3.5" fill="#23418c"/>
<rect x="267.55" y="770.45" width="0.9" height="3.5" fill="#23418c"/>
<rect x="273.45" y="770.45" width="0.9" height="3.5" fill="#23418c"/>
<rect x="275.35" y="770.45" width="0.9" height="3.5" fill="#23418c"/>
<rect x="71.7" y="782.4" width="362" height="1.2" fill="#99a6d2"/>
<text x="72.2" y="778" font-size="3.6" fill="#555" textLength="11.6" lengthAdjust="spacingAndGlyphs">[0-100]</text>
<rect x="86.95" y="778.71" width="0.9" height="3.84" fill="#23418c"/>
<rect x="90.85" y="781.17" width="0.9" height="1.38" fill="#23418c"/>
<rect x="96.95" y="780.54" width="0.9" height="2.01" fill="#23418c"/>
<rect x="106.05" y="781.06" width="0.9" height="1.49" fill="#23418c"/>
<rect x="110.45" y="780.87" width="0.9" height="1.68" fill="#23418c"/>
<rect x="120.25" y="776.39" width="0.9" height="6.16" fill="#23418c"/>
<rect x="130.75" y="781.72" width="0.9" height="0.83" fill="#23418c"/>
<rect x="139.85" y="781.33" width="0.9" height="1.22" fill="#23418c"/>
<rect x="143.35" y="777.16" width="0.9" height="5.39" fill="#23418c"/>
<rect x="152.05" y="780.46" width="0.9" height="2.09" fill="#23418c"/>
<rect x="154.05" y="781.34" width="0.9" height="1.21" fill="#23418c"/>
<rect x="156.05" y="781.23" width="0.9" height="1.32" fill="#23418c"/>
<rect x="158.05" y="781.05" width="0.9" height="1.5" fill="#23418c"/>
<rect x="160.05" y="780.49" width="0.9" height="2.06" fill="#23418c"/>
<rect x="162.05" y="781.55" width="0.9" height="1" fill="#23418c"/>
<rect x="164.55" y="780.39" width="0.9" height="2.16" fill="#23418c"/>
<rect x="166.55" y="781.61" width="0.9" height="0.94" fill="#23418c"/>
<rect x="174.05" y="781.27" width="0.9" height="1.28" fill="#23418c"/>
<rect x="176.55" y="781.31" width="0.9" height="1.24" fill="#23418c"/>
<rect x="185.25" y="779.63" width="0.9" height="2.92" fill="#23418c"/>
<rect x="190.95" y="776.05" width="0.9" height="6.5" fill="#23418c"/>
<rect x="196.55" y="780.49" width="0.9" height="2.06" fill="#23418c"/>
<rect x="205.55" y="780.95" width="0.9" height="1.6" fill="#23418c"/>
<rect x="207.55" y="780.75" width="0.9" height="1.8" fill="#23418c"/>
<rect x="209.55" y="781.27" width="0.9" height="1.28" fill="#23418c"/>
<rect x="211.55" y="780.14" width="0.9" height="2.41" fill="#23418c"/>
<rect x="213.55" y="781.3" width="0.9" height="1.25" fill="#23418c"/>
<rect x="217.55" y="781.71" width="0.9" height="0.84" fill="#23418c"/>
<rect x="219.55" y="781.53" width="0.9" height="1.02" fill="#23418c"/>
<rect x="221.55" y="780.99" width="0.9" height="1.56" fill="#23418c"/>
<rect x="223.55" y="781.34" width="0.9" height="1.21" fill="#23418c"/>
<rect x="234.55" y="781.2" width="0.9" height="1.35" fill="#23418c"/>
<rect x="236.55" y="779.61" width="0.9" height="2.94" fill="#23418c"/>
<rect x="240.55" y="781.15" width="0.9" height="1.4" fill="#23418c"/>
<rect x="242.55" y="779.81" width="0.9" height="2.74" fill="#23418c"/>
<rect x="244.55" y="780.6" width="0.9" height="1.95" fill="#23418c"/>
<rect x="249.75" y="781.32" width="0.9" height="1.23" fill="#23418c"/>
<rect x="251.65" y="779.78" width="0.9" height="2.77" fill="#23418c"/>
<rect x="253.55" y="780.6" width="0.9" height="1.95" fill="#23418c"/>
<rect x="255.55" y="781.74" width="0.9" height="0.81" fill="#23418c"/>
<rect x="277.25" y="776.05" width="0.9" height="6.5" fill="#23418c"/>
<rect x="279.15" y="779.84" width="0.9" height="2.71" fill="#23418c"/>
<rect x="289.55" y="780.13" width="0.9" height="2.42" fill="#23418c"/>
<rect x="292.45" y="780.54" width="0.9" height="2.01" fill="#23418c"/>
<rect x="294.35" y="780.83" width="0.9" height="1.72" fill="#23418c"/>
<rect x="296.25" y="780.51" width="0.9" height="2.04" fill="#23418c"/>
<rect x="303.85" y="779.36" width="0.9" height="3.19" fill="#23418c"/>
<rect x="305.75" y="781.21" width="0.9" height="1.34" fill="#23418c"/>
<rect x="316.95" y="779.71" width="0.9" height="2.84" fill="#23418c"/>
<rect x="318.95" y="780.31" width="0.9" height="2.24" fill="#23418c"/>
<rect x="323.05" y="779.9" width="0.9" height="2.65" fill="#23418c"/>
<rect x="325.05" y="781.48" width="0.9" height="1.07" fill="#23418c"/>
<rect x="328.15" y="781.76" width="0.9" height="0.79" fill="#23418c"/>
<rect x="339.45" y="779.64" width="0.9" height="2.91" fill="#23418c"/>
<rect x="340.45" y="779.21" width="0.9" height="3.34" fill="#23418c"/>
<rect x="344.55" y="776.39" width="0.9" height="6.16" fill="#23418c"/>
<rect x="347.55" y="779.31" width="0.9" height="3.24" fill="#23418c"/>
<rect x="350.65" y="780.97" width="0.9" height="1.58" fill="#23418c"/>
<rect x="372.15" y="780.65" width="0.9" height="1.9" fill="#23418c"/>
<rect x="375.15" y="781.07" width="0.9" height="1.48" fill="#23418c"/>
<rect x="382.95" y="780.54" width="0.9" height="2.01" fill="#23418c"/>
<rect x="391.55" y="781.1" width="0.9" height="1.45" fill="#23418c"/>
<rect x="401.75" y="779.75" width="0.9" height="2.8" fill="#23418c"/>
<rect x="420.15" y="780.63" width="0.9" height="1.92" fill="#23418c"/>
<text x="451.4" y="639.4" font-size="15" fill="#000" font-weight="bold" stroke="#000" stroke-width="0.3">e</text>
<path d="M493.3 641.3 H614.5 V761.3 H493.3 Z" fill="none" stroke="#666" stroke-width="0.8"/>
<line x1="488.7" y1="761.3" x2="493.3" y2="761.3" stroke="#666" stroke-width="0.8"/>
<text x="486.8" y="764.7" font-size="9.2" text-anchor="end" fill="#222">0</text>
<line x1="493.3" y1="761.3" x2="493.3" y2="765.5" stroke="#666" stroke-width="0.8"/>
<text x="493.3" y="776.7" font-size="9.2" text-anchor="middle" fill="#222">0</text>
<line x1="488.7" y1="737.3" x2="493.3" y2="737.3" stroke="#666" stroke-width="0.8"/>
<text x="486.8" y="740.7" font-size="9.2" text-anchor="end" fill="#222">20</text>
<line x1="517.54" y1="761.3" x2="517.54" y2="765.5" stroke="#666" stroke-width="0.8"/>
<text x="517.54" y="776.7" font-size="9.2" text-anchor="middle" fill="#222">10</text>
<line x1="488.7" y1="713.3" x2="493.3" y2="713.3" stroke="#666" stroke-width="0.8"/>
<text x="486.8" y="716.7" font-size="9.2" text-anchor="end" fill="#222">40</text>
<line x1="541.78" y1="761.3" x2="541.78" y2="765.5" stroke="#666" stroke-width="0.8"/>
<text x="541.78" y="776.7" font-size="9.2" text-anchor="middle" fill="#222">20</text>
<line x1="488.7" y1="689.3" x2="493.3" y2="689.3" stroke="#666" stroke-width="0.8"/>
<text x="486.8" y="692.7" font-size="9.2" text-anchor="end" fill="#222">60</text>
<line x1="566.02" y1="761.3" x2="566.02" y2="765.5" stroke="#666" stroke-width="0.8"/>
<text x="566.02" y="776.7" font-size="9.2" text-anchor="middle" fill="#222">30</text>
<line x1="488.7" y1="665.3" x2="493.3" y2="665.3" stroke="#666" stroke-width="0.8"/>
<text x="486.8" y="668.7" font-size="9.2" text-anchor="end" fill="#222">80</text>
<line x1="590.26" y1="761.3" x2="590.26" y2="765.5" stroke="#666" stroke-width="0.8"/>
<text x="590.26" y="776.7" font-size="9.2" text-anchor="middle" fill="#222">40</text>
<line x1="488.7" y1="641.3" x2="493.3" y2="641.3" stroke="#666" stroke-width="0.8"/>
<text x="486.8" y="644.7" font-size="9.2" text-anchor="end" fill="#222">100</text>
<line x1="614.5" y1="761.3" x2="614.5" y2="765.5" stroke="#666" stroke-width="0.8"/>
<text x="614.5" y="776.7" font-size="9.2" text-anchor="middle" fill="#222">50</text>
<text x="554.7" y="792.4" font-size="10" text-anchor="middle" fill="#231f20" textLength="100.6" lengthAdjust="spacingAndGlyphs">Average <tspan font-style="italic">cPCSK9</tspan> TSS</text>
<text x="554.7" y="804.2" font-size="10" text-anchor="middle" textLength="69" lengthAdjust="spacingAndGlyphs">%  methylation</text>
<text transform="translate(462,701.7) rotate(-90)" font-size="10" text-anchor="middle" fill="#231f20" textLength="113" lengthAdjust="spacingAndGlyphs">cPCSK9 (%  of baseline)</text>
<text x="496.6" y="650.8" font-size="7.9" textLength="47.4" lengthAdjust="spacingAndGlyphs">r =  −0.9459</text>
<text x="496.6" y="661.4" font-size="7.9" fill="#231f20"><tspan font-style="italic">P</tspan> = 1.083 × 10<tspan font-size="5.2" dy="-3.4">−5</tspan></text>
<circle cx="507.8" cy="688.58" r="1.6" fill="#c9c9c9"/>
<circle cx="507.8" cy="695.66" r="1.6" fill="#c9c9c9"/>
<circle cx="525.05" cy="680.42" r="1.6" fill="#5db8c4"/>
<circle cx="544.45" cy="722.66" r="1.6" fill="#5db8c4"/>
<circle cx="555.11" cy="729.5" r="1.6" fill="#5db8c4"/>
<circle cx="555.11" cy="723.5" r="1.6" fill="#2196cc"/>
<circle cx="571.6" cy="740.42" r="1.6" fill="#2196cc"/>
<circle cx="574.26" cy="751.58" r="1.6" fill="#2196cc"/>
<circle cx="579.35" cy="742.22" r="1.6" fill="#0d3584"/>
<circle cx="573.78" cy="748.22" r="1.6" fill="#0d3584"/>
<circle cx="580.81" cy="749.42" r="1.6" fill="#0d3584"/>
<circle cx="622.3" cy="649.8" r="1.3" fill="#c9c9c9"/>
<circle cx="622.3" cy="665.7" r="1.3" fill="#5db8c4"/>
<circle cx="622.3" cy="691.6" r="1.3" fill="#2196cc"/>
<circle cx="622.3" cy="716.6" r="1.3" fill="#0d3584"/>
<text x="628.7" y="652.5" font-size="9" textLength="29.3" lengthAdjust="spacingAndGlyphs">Vehicle</text>
<text x="628.7" y="668.9" font-size="9" textLength="57.5" lengthAdjust="spacingAndGlyphs">PCSK9-EE-V2 |</text>
<text x="628.7" y="679.1" font-size="9" fill="#231f20"><tspan textLength="35.5" lengthAdjust="spacingAndGlyphs">0.5 mg kg</tspan><tspan font-size="5" dy="-3.9">−1</tspan></text>
<text x="628.7" y="694.8" font-size="9" textLength="57.5" lengthAdjust="spacingAndGlyphs">PCSK9-EE-V2 |</text>
<text x="628.7" y="705" font-size="9" fill="#231f20"><tspan textLength="35.5" lengthAdjust="spacingAndGlyphs">1.0 mg kg</tspan><tspan font-size="5" dy="-3.9">−1</tspan></text>
<text x="628.7" y="720.7" font-size="9" textLength="57.5" lengthAdjust="spacingAndGlyphs">PCSK9-EE-V2 |</text>
<text x="628.7" y="731" font-size="9" fill="#231f20"><tspan textLength="35.5" lengthAdjust="spacingAndGlyphs">1.5 mg kg</tspan><tspan font-size="5" dy="-3.9">−1</tspan></text>
</svg></body></html>
